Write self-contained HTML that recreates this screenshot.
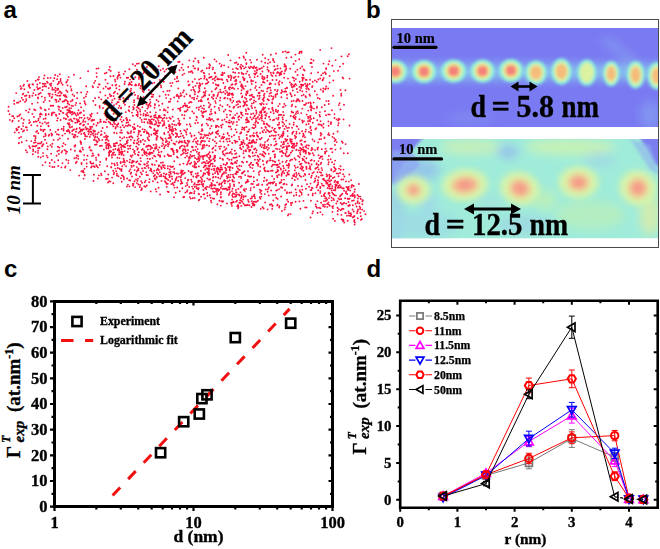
<!DOCTYPE html>
<html><head><meta charset="utf-8"><style>html,body{margin:0;padding:0;background:#fff;}body{width:660px;height:549px;overflow:hidden;}svg{display:block}</style></head>
<body><svg width="660" height="549" viewBox="0 0 660 549">
<rect width="660" height="549" fill="#fff"/>
<text x="3.4" y="17.9" font-size="24" font-family="Liberation Sans" font-weight="bold">a</text>
<text x="366" y="18.2" font-size="24" font-family="Liberation Sans" font-weight="bold">b</text>
<text x="4" y="277" font-size="24" font-family="Liberation Sans" font-weight="bold">c</text>
<text x="366.5" y="277" font-size="24" font-family="Liberation Sans" font-weight="bold">d</text>
<path d="M331.5 48.1h0M320.2 49.9h0M285.3 51.4h0M299.9 51.7h0M301.6 51.5h0M246.3 52.7h0M282.9 52.0h0M287.1 52.5h0M288.8 52.2h0M301.5 52.7h0M276.0 53.5h0M299.2 53.2h0M262.7 54.8h0M270.9 54.8h0M295.4 54.6h0M228.2 55.0h0M243.5 56.5h0M341.5 56.4h0M203.8 57.8h0M239.4 57.7h0M244.0 57.8h0M286.4 57.7h0M291.3 57.3h0M195.2 58.5h0M265.2 58.3h0M273.0 58.9h0M214.5 59.4h0M245.5 59.8h0M250.2 59.9h0M257.0 59.8h0M268.4 59.6h0M299.2 59.3h0M311.3 59.4h0M189.4 60.4h0M198.3 60.9h0M230.5 60.4h0M273.3 60.5h0M295.6 60.9h0M313.5 60.5h0M335.6 60.1h0M178.2 62.0h0M179.5 61.8h0M193.6 61.2h0M216.5 61.4h0M261.6 61.4h0M329.3 61.3h0M198.6 62.5h0M234.9 62.9h0M236.4 62.5h0M251.2 62.5h0M265.2 62.8h0M270.1 62.3h0M274.4 62.1h0M310.4 63.0h0M311.6 63.0h0M136.9 63.8h0M138.7 63.4h0M219.7 63.6h0M246.5 63.3h0M267.9 63.4h0M293.6 64.0h0M323.5 63.6h0M343.1 63.8h0M132.8 64.3h0M182.5 64.4h0M209.3 64.2h0M237.8 64.4h0M238.2 64.2h0M241.2 64.8h0M246.3 64.0h0M284.5 64.3h0M328.5 64.3h0M135.2 65.8h0M210.1 65.3h0M221.7 65.1h0M224.1 65.4h0M277.4 65.8h0M285.6 65.8h0M332.4 65.7h0M109.8 66.9h0M158.7 66.2h0M171.3 66.6h0M193.3 66.0h0M221.1 66.4h0M240.2 66.7h0M242.8 66.3h0M251.0 66.8h0M254.2 66.5h0M263.6 66.4h0M274.2 66.2h0M284.5 66.4h0M286.0 67.0h0M302.2 66.5h0M312.0 66.9h0M339.9 66.6h0M147.0 67.0h0M181.5 67.8h0M188.2 67.0h0M209.5 67.3h0M213.1 67.6h0M228.4 67.1h0M240.9 67.5h0M245.7 67.2h0M248.9 67.3h0M252.7 67.5h0M256.6 67.5h0M261.9 67.9h0M267.5 67.1h0M96.5 68.6h0M98.4 68.4h0M144.5 68.1h0M163.0 68.8h0M194.4 68.4h0M195.1 68.4h0M198.3 68.4h0M206.8 68.2h0M209.2 68.3h0M236.3 68.3h0M241.2 68.7h0M244.1 68.4h0M249.7 68.3h0M253.3 68.3h0M255.5 68.0h0M260.1 68.8h0M277.8 68.6h0M280.5 68.4h0M290.2 68.7h0M300.5 68.3h0M326.1 68.2h0M109.1 69.7h0M129.4 69.2h0M136.9 69.6h0M153.6 69.6h0M157.8 69.6h0M166.3 69.4h0M183.3 69.9h0M198.1 69.7h0M212.7 69.3h0M232.8 69.1h0M237.7 69.0h0M257.0 69.8h0M259.2 69.0h0M267.5 69.4h0M274.6 69.9h0M275.7 69.2h0M285.4 69.9h0M286.3 69.0h0M297.4 69.8h0M303.6 69.5h0M326.1 69.1h0M110.7 71.0h0M157.0 70.8h0M160.6 70.2h0M179.6 70.2h0M202.4 70.4h0M257.0 70.6h0M268.7 70.7h0M285.0 70.9h0M304.6 70.5h0M338.1 70.8h0M88.1 71.3h0M125.1 71.5h0M164.5 71.5h0M188.9 72.0h0M190.7 71.7h0M191.8 71.1h0M201.2 71.5h0M247.3 71.5h0M254.9 71.1h0M262.4 71.5h0M268.6 71.6h0M281.9 71.5h0M295.5 71.7h0M333.8 71.1h0M106.5 72.8h0M118.8 72.4h0M136.3 72.1h0M144.1 72.0h0M175.5 72.3h0M192.6 72.8h0M203.6 72.7h0M214.7 72.7h0M222.4 72.7h0M224.4 72.9h0M233.2 72.3h0M235.2 72.7h0M238.9 73.0h0M241.7 72.6h0M256.6 72.6h0M270.8 72.8h0M273.3 72.5h0M277.5 72.1h0M278.6 72.6h0M280.6 72.5h0M318.0 72.4h0M324.9 72.3h0M96.5 73.1h0M104.8 73.4h0M123.7 73.9h0M143.4 73.4h0M147.4 73.5h0M184.2 73.6h0M204.2 73.2h0M215.0 73.3h0M222.6 73.7h0M241.9 73.8h0M246.1 73.6h0M254.2 73.6h0M256.1 73.3h0M260.6 74.0h0M273.6 73.2h0M276.9 73.1h0M279.8 73.7h0M284.3 73.5h0M311.2 73.3h0M323.0 73.3h0M325.4 73.1h0M55.2 75.0h0M59.9 74.3h0M74.0 74.8h0M118.9 74.8h0M182.5 74.9h0M209.2 74.1h0M221.4 75.0h0M243.5 74.0h0M249.1 74.9h0M255.1 74.6h0M271.4 74.9h0M279.9 74.4h0M281.3 74.3h0M302.7 74.8h0M325.9 74.0h0M44.5 75.4h0M119.5 75.3h0M204.5 75.7h0M222.7 75.1h0M228.2 76.0h0M230.3 75.4h0M267.4 75.7h0M275.9 75.8h0M279.5 75.3h0M297.6 75.0h0M303.1 75.2h0M321.3 75.3h0M329.6 75.9h0M57.7 76.1h0M96.7 76.8h0M110.5 76.2h0M113.4 76.0h0M117.9 76.3h0M165.2 76.0h0M177.1 76.7h0M204.7 76.9h0M211.5 76.8h0M215.9 76.4h0M231.5 76.4h0M235.5 76.6h0M238.4 76.8h0M257.7 76.3h0M262.3 76.3h0M272.5 76.1h0M39.0 77.1h0M50.5 77.9h0M68.7 77.1h0M117.4 77.6h0M120.5 77.6h0M126.7 77.8h0M128.1 77.8h0M135.3 77.2h0M139.0 77.2h0M209.2 77.8h0M210.2 77.3h0M215.6 77.1h0M228.8 77.3h0M233.8 77.8h0M234.3 77.8h0M243.0 77.2h0M249.9 77.3h0M254.6 77.1h0M264.0 77.1h0M264.6 78.0h0M267.2 77.4h0M284.1 77.8h0M292.7 77.4h0M302.2 77.7h0M303.8 77.9h0M342.6 77.5h0M43.9 78.4h0M47.8 78.0h0M54.3 78.3h0M60.6 79.0h0M80.4 78.1h0M117.5 78.7h0M133.0 79.0h0M138.9 78.9h0M141.9 78.6h0M177.1 78.3h0M200.9 78.6h0M204.2 78.6h0M214.4 78.4h0M217.9 78.5h0M231.3 78.0h0M243.6 78.9h0M244.7 78.7h0M262.1 78.1h0M264.5 78.8h0M288.0 78.6h0M293.9 78.3h0M302.9 78.6h0M320.2 78.5h0M323.7 78.1h0M343.3 78.4h0M37.8 79.5h0M38.7 79.5h0M57.2 79.2h0M67.8 79.9h0M105.5 79.7h0M115.0 79.7h0M130.2 79.6h0M133.6 79.1h0M159.9 80.0h0M174.8 79.1h0M194.9 79.1h0M199.1 79.4h0M206.5 79.3h0M207.2 80.0h0M212.6 79.2h0M217.3 79.3h0M218.1 79.4h0M219.9 79.3h0M221.8 79.2h0M222.4 79.9h0M226.9 79.8h0M236.1 79.8h0M263.2 79.5h0M272.5 80.0h0M276.5 80.0h0M295.9 79.1h0M302.7 79.8h0M305.7 79.7h0M306.6 79.9h0M310.1 79.8h0M318.3 79.5h0M322.9 79.4h0M27.4 81.0h0M35.8 80.8h0M53.4 80.9h0M60.6 81.0h0M95.2 80.9h0M161.9 80.1h0M215.0 80.5h0M230.8 80.0h0M235.8 80.8h0M236.3 80.8h0M244.1 80.3h0M251.2 80.3h0M253.0 81.0h0M267.4 80.7h0M294.2 80.7h0M302.5 80.7h0M314.9 80.4h0M322.6 80.4h0M333.4 80.5h0M47.0 81.6h0M58.9 82.0h0M66.8 81.7h0M115.4 81.4h0M124.9 81.7h0M163.8 81.8h0M176.6 81.6h0M178.3 81.1h0M188.2 81.5h0M192.6 81.7h0M227.6 81.4h0M235.1 81.0h0M240.1 81.9h0M247.4 81.7h0M251.2 81.6h0M263.4 81.9h0M279.6 81.2h0M299.7 81.8h0M312.7 81.7h0M316.7 81.8h0M39.9 82.9h0M47.8 82.8h0M61.4 83.0h0M66.2 82.5h0M94.1 82.9h0M131.5 82.0h0M154.3 82.8h0M172.5 82.9h0M208.4 82.0h0M213.1 82.9h0M255.7 82.4h0M262.9 82.3h0M264.5 82.6h0M278.6 82.9h0M282.1 82.8h0M289.9 82.4h0M329.6 82.6h0M42.8 83.8h0M44.1 83.9h0M45.6 83.6h0M51.3 83.5h0M58.8 83.1h0M107.6 83.4h0M124.6 84.0h0M129.4 83.0h0M139.1 83.9h0M152.2 83.4h0M170.3 83.1h0M197.0 83.2h0M199.5 83.1h0M202.5 83.6h0M205.9 83.8h0M207.3 83.2h0M223.4 83.0h0M236.3 83.5h0M251.8 83.9h0M270.0 83.2h0M270.9 83.8h0M291.3 83.9h0M295.5 83.9h0M305.2 83.8h0M24.0 84.6h0M29.4 84.5h0M32.5 84.2h0M33.1 84.5h0M37.3 84.5h0M49.9 84.3h0M50.4 84.8h0M57.7 84.3h0M62.6 84.7h0M98.9 84.3h0M99.6 84.5h0M116.3 84.6h0M128.7 84.7h0M130.3 84.3h0M135.6 84.4h0M146.8 84.9h0M189.6 84.6h0M200.5 84.5h0M215.7 84.5h0M218.5 85.0h0M231.5 84.9h0M232.4 84.3h0M235.2 84.5h0M241.5 84.2h0M261.5 84.9h0M269.5 84.2h0M275.3 84.1h0M279.1 84.7h0M292.0 84.5h0M301.0 84.8h0M301.5 84.7h0M302.9 85.0h0M303.3 85.0h0M307.5 84.3h0M309.7 84.0h0M23.4 85.7h0M28.7 85.2h0M44.6 86.0h0M51.1 85.7h0M67.5 85.4h0M112.3 85.2h0M115.6 85.4h0M131.8 85.0h0M135.2 85.4h0M136.2 85.3h0M138.7 85.2h0M140.8 85.9h0M146.2 85.1h0M160.8 85.4h0M171.3 85.9h0M188.7 85.2h0M195.5 85.9h0M199.2 85.4h0M200.1 85.8h0M217.2 85.2h0M218.3 85.7h0M241.0 86.0h0M242.3 85.4h0M291.2 85.0h0M294.1 85.1h0M296.3 85.1h0M307.0 85.3h0M307.6 85.1h0M20.5 86.2h0M29.1 86.5h0M42.8 86.8h0M46.1 86.5h0M70.6 86.5h0M86.2 86.3h0M92.6 86.1h0M105.8 86.7h0M119.4 86.1h0M140.9 86.0h0M146.4 86.5h0M156.9 86.7h0M157.5 86.4h0M225.3 86.7h0M241.9 86.2h0M242.7 86.1h0M245.5 86.1h0M255.9 86.1h0M291.8 86.8h0M293.9 86.2h0M294.4 86.3h0M299.5 86.9h0M301.6 86.2h0M306.0 86.3h0M312.5 86.1h0M326.3 86.4h0M29.9 87.8h0M37.1 87.1h0M52.3 87.9h0M55.4 87.9h0M93.0 87.3h0M98.0 87.2h0M110.1 87.7h0M155.9 87.1h0M161.2 87.3h0M193.1 87.2h0M199.0 87.2h0M216.5 88.0h0M230.1 87.2h0M232.9 87.6h0M242.1 87.5h0M243.1 88.0h0M255.1 87.9h0M259.6 87.4h0M268.2 87.8h0M270.1 87.8h0M286.9 87.8h0M292.5 87.3h0M307.1 87.0h0M312.1 87.0h0M20.8 88.9h0M21.6 88.3h0M38.5 88.8h0M40.0 88.0h0M48.7 88.1h0M57.4 88.7h0M58.3 89.0h0M103.5 88.5h0M107.9 88.5h0M108.6 88.9h0M109.7 88.6h0M110.3 88.1h0M116.4 88.2h0M131.2 88.8h0M140.3 88.1h0M178.3 88.4h0M199.4 88.8h0M204.8 88.3h0M224.7 88.3h0M228.9 88.0h0M231.8 88.3h0M234.3 88.9h0M238.0 88.6h0M243.9 88.9h0M267.3 88.8h0M285.3 88.6h0M287.2 88.0h0M301.1 88.0h0M306.4 88.7h0M308.4 88.7h0M323.4 88.5h0M325.8 88.4h0M328.2 88.5h0M24.4 89.2h0M37.7 89.2h0M52.3 89.6h0M53.9 89.7h0M57.8 89.9h0M71.4 89.1h0M119.4 89.6h0M142.4 89.4h0M148.9 89.9h0M193.6 89.5h0M215.4 89.3h0M220.3 89.6h0M229.5 89.5h0M250.5 89.7h0M275.0 89.9h0M277.6 89.9h0M296.8 89.0h0M308.9 89.5h0M320.7 89.5h0M325.3 89.3h0M340.5 89.9h0M34.4 90.0h0M42.5 90.0h0M55.9 90.5h0M66.3 90.4h0M71.5 90.6h0M130.8 90.6h0M167.4 90.9h0M169.5 90.7h0M183.8 90.5h0M191.3 90.1h0M194.3 90.4h0M199.5 91.0h0M225.8 90.6h0M241.6 90.2h0M256.6 90.1h0M261.5 90.7h0M270.7 90.3h0M281.8 90.2h0M292.8 90.5h0M300.1 90.3h0M323.0 90.9h0M59.8 91.5h0M60.3 91.8h0M67.5 91.8h0M87.4 91.9h0M115.0 91.8h0M130.2 91.3h0M142.7 91.1h0M163.3 91.6h0M195.1 91.9h0M205.7 91.3h0M211.8 91.5h0M220.3 91.8h0M223.6 91.9h0M246.5 91.7h0M247.8 91.3h0M263.2 91.1h0M267.0 91.6h0M277.1 91.6h0M282.3 91.6h0M284.3 91.7h0M285.5 91.3h0M286.1 91.7h0M302.3 91.3h0M306.4 91.6h0M314.8 91.3h0M323.1 91.8h0M28.2 92.2h0M40.7 92.9h0M55.3 92.1h0M58.4 92.9h0M61.6 93.0h0M77.1 92.8h0M81.1 92.4h0M100.3 92.2h0M113.9 93.0h0M123.7 92.1h0M134.2 92.4h0M143.6 92.0h0M182.9 92.4h0M198.4 92.3h0M203.6 92.2h0M218.4 92.7h0M221.6 92.6h0M227.1 92.3h0M259.6 92.7h0M271.0 92.7h0M297.6 92.1h0M16.2 93.1h0M23.2 93.6h0M33.3 93.1h0M39.2 93.6h0M48.6 93.8h0M49.9 93.7h0M61.4 93.2h0M117.6 93.8h0M151.5 93.9h0M180.6 93.5h0M205.1 93.0h0M225.3 93.7h0M228.4 93.7h0M229.6 93.2h0M232.4 93.5h0M241.1 93.4h0M247.5 93.3h0M258.7 93.0h0M259.2 93.3h0M264.5 93.8h0M269.7 93.6h0M281.1 93.0h0M290.3 93.1h0M22.8 94.4h0M38.6 94.3h0M52.5 94.4h0M55.6 94.6h0M72.6 94.5h0M86.4 94.1h0M109.7 94.2h0M131.9 94.7h0M135.1 94.9h0M147.6 95.0h0M153.2 94.7h0M165.6 94.8h0M168.5 94.9h0M177.2 94.7h0M186.5 94.3h0M194.8 94.2h0M204.7 94.6h0M213.4 94.8h0M217.8 94.8h0M231.4 94.0h0M232.2 94.8h0M233.1 94.8h0M245.9 94.1h0M252.0 94.8h0M275.7 94.5h0M277.2 94.0h0M287.0 94.8h0M290.8 94.4h0M303.6 94.8h0M309.4 94.5h0M317.0 94.6h0M25.0 96.0h0M26.5 95.5h0M29.5 95.8h0M32.4 95.8h0M35.7 95.0h0M49.6 95.9h0M57.2 95.6h0M59.2 95.7h0M60.3 95.5h0M63.7 95.3h0M64.6 95.8h0M65.6 95.3h0M105.4 95.4h0M111.3 95.7h0M176.5 96.0h0M177.2 95.7h0M181.4 95.5h0M189.9 95.5h0M204.2 95.4h0M205.3 95.6h0M209.3 95.0h0M213.6 95.9h0M214.1 95.1h0M227.7 95.1h0M229.2 95.1h0M246.2 95.1h0M249.7 95.4h0M251.0 95.5h0M257.7 95.7h0M259.8 95.7h0M263.9 95.2h0M275.5 95.3h0M294.8 95.2h0M301.7 95.6h0M310.0 95.8h0M333.1 95.8h0M41.8 96.6h0M52.1 96.9h0M65.3 96.6h0M66.6 97.0h0M74.3 96.0h0M85.9 96.4h0M110.4 96.3h0M113.6 96.1h0M128.9 96.2h0M138.0 96.0h0M151.6 96.7h0M152.7 96.7h0M159.6 96.3h0M178.6 96.3h0M180.4 96.1h0M184.4 96.5h0M190.2 96.4h0M197.6 96.3h0M203.5 96.4h0M217.5 96.0h0M242.3 96.3h0M252.7 96.7h0M269.1 96.1h0M271.4 96.0h0M273.3 96.7h0M275.6 96.9h0M291.7 96.2h0M305.5 96.3h0M21.8 97.9h0M29.6 97.3h0M38.0 97.5h0M44.9 97.7h0M51.6 97.7h0M83.9 97.9h0M98.9 97.5h0M107.8 98.0h0M123.3 98.0h0M143.4 97.1h0M174.1 97.5h0M178.9 98.0h0M192.1 98.0h0M194.1 97.8h0M202.0 97.4h0M211.9 97.2h0M220.3 97.7h0M225.0 97.8h0M232.6 97.4h0M242.0 97.3h0M244.9 97.6h0M254.1 97.3h0M259.5 97.9h0M264.3 97.1h0M281.4 97.3h0M305.9 97.3h0M317.8 98.0h0M38.0 98.4h0M60.0 99.0h0M77.2 98.3h0M95.1 98.2h0M114.6 98.8h0M137.5 98.2h0M138.5 98.5h0M166.2 98.1h0M170.6 99.0h0M196.9 98.6h0M208.1 98.7h0M213.2 98.7h0M216.3 98.2h0M224.3 98.5h0M227.6 98.5h0M230.3 99.0h0M251.3 98.9h0M263.7 98.0h0M273.3 98.5h0M287.1 98.3h0M319.7 98.7h0M23.0 99.9h0M26.1 99.1h0M55.3 99.7h0M56.3 100.0h0M60.2 99.5h0M65.4 99.7h0M72.5 99.7h0M101.3 99.4h0M119.1 99.4h0M120.4 99.4h0M128.1 99.3h0M141.3 99.6h0M150.0 99.6h0M194.1 99.4h0M201.1 99.9h0M207.9 99.6h0M230.5 99.8h0M246.3 99.0h0M250.1 99.8h0M258.7 99.1h0M262.6 99.4h0M267.7 99.3h0M268.0 99.6h0M272.5 99.5h0M297.1 99.1h0M298.5 99.4h0M14.1 100.8h0M26.3 100.6h0M45.1 100.1h0M49.6 100.9h0M66.7 100.4h0M72.3 100.6h0M112.3 100.1h0M134.1 100.3h0M156.6 100.0h0M198.8 100.9h0M220.0 100.4h0M230.5 100.6h0M233.4 101.0h0M254.1 100.5h0M263.6 100.2h0M268.8 100.3h0M293.7 100.7h0M296.6 100.7h0M297.9 100.4h0M302.5 101.0h0M328.6 101.0h0M20.3 101.2h0M25.0 101.9h0M56.4 101.9h0M58.6 101.2h0M62.6 101.6h0M63.5 101.4h0M64.4 101.3h0M67.9 101.7h0M70.7 101.4h0M84.4 101.2h0M93.3 101.0h0M125.6 101.4h0M158.4 101.4h0M168.8 101.9h0M170.2 101.5h0M177.7 101.4h0M190.2 101.9h0M200.6 101.1h0M201.8 101.2h0M215.2 101.1h0M237.9 101.4h0M239.4 101.1h0M243.6 101.1h0M246.9 101.3h0M255.8 101.6h0M263.7 101.0h0M291.6 101.2h0M296.2 101.4h0M299.6 101.3h0M326.3 101.1h0M17.0 102.7h0M18.5 102.5h0M37.7 102.6h0M43.7 102.0h0M76.2 102.9h0M111.8 102.5h0M117.5 102.2h0M118.6 102.1h0M123.7 102.9h0M134.0 102.3h0M146.8 102.6h0M150.4 102.3h0M189.0 102.9h0M191.5 102.3h0M208.8 102.7h0M215.7 102.9h0M232.1 102.6h0M236.9 102.0h0M240.1 102.2h0M244.1 102.6h0M245.4 102.3h0M253.7 102.7h0M272.1 102.4h0M308.4 102.9h0M310.4 102.5h0M313.6 102.6h0M14.3 103.9h0M32.1 103.8h0M67.7 103.4h0M80.1 103.4h0M84.9 103.0h0M104.9 104.0h0M116.4 103.9h0M149.7 103.8h0M162.4 103.8h0M184.8 103.4h0M245.0 103.4h0M252.0 103.6h0M260.1 103.7h0M262.0 103.1h0M272.2 103.3h0M279.7 103.9h0M284.3 103.9h0M306.3 103.1h0M310.8 103.6h0M328.8 104.0h0M339.6 103.2h0M69.2 104.5h0M85.6 104.5h0M95.5 105.0h0M125.0 104.8h0M134.4 104.9h0M139.0 104.6h0M142.7 104.3h0M146.6 104.2h0M148.8 105.0h0M154.9 104.2h0M210.4 104.5h0M238.0 104.3h0M244.7 104.8h0M246.7 104.9h0M261.3 104.8h0M263.7 104.1h0M266.7 104.1h0M292.2 104.7h0M304.1 104.7h0M305.5 104.7h0M50.6 105.7h0M52.0 105.6h0M53.2 105.7h0M71.5 105.6h0M72.9 105.9h0M75.5 105.1h0M99.6 105.9h0M114.0 105.2h0M119.4 105.7h0M148.1 105.7h0M150.6 106.0h0M155.0 105.1h0M159.0 105.5h0M183.8 105.6h0M185.4 105.1h0M187.1 105.7h0M203.8 105.6h0M220.2 105.1h0M227.6 105.0h0M236.3 105.1h0M243.8 105.6h0M246.9 105.4h0M285.5 105.6h0M310.8 105.4h0M324.7 105.0h0M338.8 105.1h0M8.6 106.7h0M58.3 106.5h0M66.9 106.5h0M129.2 106.7h0M137.4 106.7h0M182.9 106.7h0M186.0 106.5h0M186.1 106.2h0M200.7 106.2h0M209.5 106.1h0M214.6 106.8h0M222.4 106.4h0M229.6 106.8h0M233.8 106.9h0M234.2 106.8h0M240.2 106.5h0M243.4 106.2h0M251.4 106.0h0M278.2 106.1h0M283.5 106.9h0M291.6 106.3h0M295.7 106.7h0M310.3 106.9h0M311.5 106.4h0M317.0 106.8h0M40.4 107.4h0M59.4 107.1h0M62.7 107.9h0M65.1 107.3h0M66.0 107.3h0M81.1 107.3h0M99.7 107.7h0M118.6 107.9h0M121.2 107.8h0M133.1 107.1h0M137.1 107.3h0M142.3 107.2h0M148.4 107.1h0M154.6 107.7h0M168.0 107.4h0M180.8 107.6h0M188.0 107.6h0M189.6 107.1h0M196.6 107.7h0M199.0 107.4h0M209.0 107.4h0M218.8 108.0h0M233.5 107.8h0M238.2 107.2h0M255.0 107.5h0M263.4 107.5h0M265.3 107.6h0M272.5 107.7h0M282.9 107.1h0M310.6 107.2h0M316.9 107.9h0M321.8 107.3h0M41.2 108.5h0M69.2 108.1h0M71.1 108.1h0M103.0 108.0h0M120.9 108.4h0M133.8 108.0h0M138.6 108.3h0M147.4 108.6h0M178.1 108.6h0M179.7 108.7h0M202.2 108.1h0M248.2 108.4h0M252.1 108.0h0M263.4 108.0h0M264.1 108.6h0M268.9 108.9h0M272.2 108.6h0M302.3 108.6h0M312.0 108.0h0M314.0 108.6h0M29.5 109.2h0M34.2 109.5h0M44.8 109.8h0M48.9 109.1h0M58.9 109.5h0M67.3 109.9h0M133.3 109.4h0M140.1 109.7h0M160.0 109.9h0M164.2 109.1h0M172.9 109.5h0M180.3 109.9h0M187.5 110.0h0M198.8 109.8h0M204.0 109.0h0M211.3 109.5h0M225.4 109.8h0M245.8 109.5h0M248.8 109.3h0M262.4 109.4h0M263.5 109.9h0M272.5 109.4h0M276.0 109.8h0M311.0 109.7h0M340.5 109.4h0M26.1 110.6h0M35.4 110.2h0M45.6 110.3h0M60.5 111.0h0M68.2 110.2h0M69.5 110.2h0M78.5 110.3h0M83.7 110.7h0M111.8 110.4h0M112.8 110.4h0M115.3 110.7h0M128.7 110.3h0M136.6 110.1h0M145.3 110.9h0M163.8 110.3h0M165.7 110.5h0M180.2 110.8h0M219.4 110.1h0M229.5 110.6h0M256.1 110.4h0M273.2 110.8h0M278.1 110.8h0M308.2 110.6h0M311.2 110.4h0M331.9 110.3h0M8.4 111.0h0M60.9 111.3h0M69.1 111.7h0M70.3 111.3h0M72.6 112.0h0M129.3 111.3h0M137.5 112.0h0M140.2 111.6h0M184.7 111.5h0M186.2 111.4h0M192.3 111.5h0M201.4 111.3h0M203.9 111.6h0M204.6 111.8h0M206.0 111.3h0M210.9 111.6h0M223.8 111.5h0M231.1 111.4h0M246.1 111.1h0M260.3 111.6h0M261.3 111.2h0M265.2 111.7h0M275.9 111.2h0M283.2 111.9h0M291.6 111.4h0M297.7 111.1h0M325.0 111.3h0M28.5 112.3h0M53.2 112.5h0M54.4 112.6h0M62.8 112.6h0M67.6 112.7h0M70.3 113.0h0M71.4 112.3h0M74.5 112.8h0M80.2 112.6h0M81.1 112.5h0M125.8 112.1h0M132.0 112.6h0M137.7 112.3h0M147.2 112.9h0M150.2 112.3h0M155.9 112.4h0M167.6 112.3h0M203.3 112.2h0M215.1 112.3h0M240.8 112.5h0M241.7 112.8h0M256.6 112.1h0M260.1 112.7h0M261.4 112.8h0M264.3 112.2h0M270.7 112.2h0M277.5 112.2h0M292.1 112.4h0M293.1 112.5h0M296.3 112.1h0M316.1 112.8h0M319.9 112.1h0M32.4 113.9h0M40.5 113.4h0M51.8 113.2h0M59.3 114.0h0M63.4 113.1h0M73.2 113.6h0M77.6 113.1h0M79.8 113.4h0M91.8 113.7h0M97.4 113.1h0M104.4 113.6h0M107.1 113.5h0M113.6 113.7h0M143.7 113.6h0M193.9 113.3h0M202.4 113.0h0M211.6 113.7h0M215.4 113.2h0M237.0 113.4h0M245.9 113.8h0M247.7 113.9h0M251.1 114.0h0M253.2 113.4h0M256.4 113.6h0M266.7 113.4h0M273.7 113.2h0M295.9 114.0h0M298.1 113.1h0M301.2 113.1h0M9.6 114.2h0M20.3 114.4h0M39.9 114.5h0M41.6 114.4h0M45.8 114.0h0M48.7 114.3h0M51.9 114.2h0M55.9 114.8h0M66.3 114.2h0M71.9 114.6h0M75.5 114.1h0M78.1 114.8h0M90.4 114.9h0M120.1 114.9h0M136.6 115.0h0M137.7 114.2h0M140.7 114.5h0M145.7 114.8h0M164.2 115.0h0M182.1 114.9h0M209.9 114.5h0M226.8 114.6h0M230.1 114.9h0M241.4 114.1h0M259.2 114.9h0M261.9 114.9h0M265.4 115.0h0M278.8 115.0h0M280.1 114.8h0M281.5 114.9h0M306.7 114.6h0M319.6 114.9h0M328.3 114.4h0M329.8 114.6h0M334.5 114.1h0M19.1 115.8h0M45.8 115.3h0M51.7 115.2h0M56.4 115.8h0M67.2 115.1h0M76.4 115.6h0M84.0 115.3h0M90.3 115.3h0M105.6 115.6h0M132.9 115.8h0M143.4 115.4h0M145.8 115.7h0M146.6 115.1h0M148.3 115.5h0M154.2 115.6h0M155.5 115.0h0M159.7 115.7h0M164.9 115.2h0M184.5 115.2h0M202.2 115.4h0M235.2 115.1h0M242.7 115.4h0M254.9 115.4h0M261.5 115.7h0M266.1 115.8h0M283.8 115.2h0M294.3 115.4h0M310.4 116.0h0M326.0 115.2h0M12.1 116.1h0M13.2 116.3h0M17.4 116.5h0M33.9 116.9h0M40.1 116.7h0M67.9 116.8h0M91.2 116.5h0M106.8 116.9h0M118.1 116.3h0M119.1 116.2h0M137.8 116.2h0M150.5 116.8h0M151.3 116.4h0M158.8 116.0h0M159.6 116.7h0M172.6 116.7h0M196.6 116.7h0M203.3 116.2h0M239.2 116.3h0M254.5 116.3h0M262.0 116.6h0M269.3 116.7h0M290.7 116.0h0M293.1 116.6h0M308.1 116.7h0M310.1 116.1h0M320.0 116.5h0M79.6 117.8h0M81.5 117.6h0M87.6 117.8h0M121.6 117.0h0M126.5 117.9h0M140.2 117.9h0M154.4 117.2h0M155.5 117.2h0M156.6 117.6h0M158.8 117.2h0M160.1 117.4h0M161.1 117.6h0M164.3 117.8h0M169.5 117.7h0M189.9 117.9h0M197.0 117.6h0M203.1 117.0h0M209.3 117.9h0M226.9 117.2h0M233.3 117.1h0M238.3 117.4h0M241.2 117.6h0M250.4 117.2h0M253.4 118.0h0M258.0 117.0h0M260.8 117.9h0M269.0 117.0h0M278.6 117.8h0M282.6 117.4h0M294.0 117.7h0M295.7 117.0h0M310.1 117.2h0M334.5 118.0h0M14.3 118.3h0M21.6 118.3h0M38.6 118.7h0M43.7 118.9h0M45.7 118.5h0M57.8 118.2h0M63.9 118.3h0M65.9 118.7h0M73.9 118.6h0M74.6 118.6h0M84.6 118.3h0M89.9 118.5h0M110.7 118.1h0M126.3 118.5h0M157.6 118.7h0M162.7 118.8h0M166.7 118.3h0M170.7 118.7h0M178.3 118.7h0M184.1 118.5h0M232.3 118.2h0M234.2 118.2h0M246.9 118.0h0M255.6 118.7h0M256.8 118.5h0M261.8 118.6h0M265.3 118.2h0M276.4 118.4h0M295.3 119.0h0M308.4 118.3h0M311.1 119.0h0M313.7 118.3h0M338.7 118.6h0M9.9 119.9h0M23.8 119.7h0M60.6 120.0h0M65.9 119.3h0M70.9 119.2h0M76.7 119.1h0M78.5 120.0h0M88.6 119.6h0M92.4 119.6h0M94.2 119.9h0M100.4 119.8h0M106.7 119.5h0M113.2 119.7h0M120.5 119.5h0M127.2 119.8h0M141.6 119.9h0M144.4 119.1h0M146.2 119.2h0M148.9 119.7h0M152.0 119.1h0M153.7 119.8h0M206.9 119.4h0M208.2 119.6h0M210.2 119.2h0M212.1 119.3h0M217.4 119.5h0M218.3 119.2h0M224.6 119.5h0M238.9 119.8h0M245.9 119.8h0M247.1 119.8h0M251.8 119.4h0M259.3 119.2h0M270.2 119.5h0M274.2 119.7h0M278.2 119.5h0M282.8 119.4h0M299.5 119.3h0M336.6 119.4h0M339.5 119.3h0M343.5 119.4h0M12.6 120.6h0M18.7 120.9h0M29.2 120.1h0M38.3 120.4h0M57.1 120.6h0M69.1 120.0h0M71.4 120.8h0M77.4 120.4h0M83.4 120.1h0M91.5 120.8h0M92.9 120.3h0M115.9 120.4h0M116.2 120.3h0M123.6 120.2h0M127.1 120.4h0M129.7 120.2h0M150.5 120.1h0M158.4 120.7h0M162.1 120.8h0M173.8 121.0h0M179.3 120.8h0M196.3 120.2h0M210.3 120.2h0M213.6 120.9h0M222.2 120.2h0M229.4 120.4h0M248.0 120.5h0M256.0 120.9h0M262.0 120.6h0M273.0 120.2h0M286.2 120.6h0M302.2 120.5h0M309.6 120.3h0M317.2 120.3h0M338.2 120.5h0M12.3 121.6h0M33.7 121.9h0M35.5 121.4h0M36.6 121.6h0M72.5 121.4h0M77.9 121.6h0M79.2 121.4h0M83.0 121.8h0M85.3 121.8h0M100.0 121.9h0M100.9 121.8h0M104.0 121.8h0M108.7 121.7h0M114.3 121.1h0M121.9 121.8h0M149.9 121.5h0M151.6 121.9h0M155.7 121.3h0M164.0 121.1h0M168.3 121.1h0M226.3 121.7h0M231.5 121.7h0M236.9 121.9h0M249.0 121.8h0M256.5 121.4h0M263.8 121.6h0M282.3 121.9h0M304.0 121.1h0M308.0 121.2h0M310.1 121.2h0M320.6 121.1h0M328.4 121.4h0M30.0 122.2h0M39.9 122.4h0M45.0 122.1h0M48.3 122.7h0M75.3 122.8h0M77.2 122.5h0M97.7 123.0h0M103.8 122.1h0M105.8 122.3h0M110.1 122.8h0M113.9 122.7h0M126.5 122.7h0M128.2 122.4h0M141.9 122.1h0M144.3 122.2h0M147.6 122.3h0M150.1 122.3h0M156.5 122.9h0M158.9 122.8h0M160.3 122.7h0M164.3 123.0h0M197.9 122.8h0M228.3 122.4h0M229.8 122.8h0M233.8 122.1h0M246.3 122.4h0M247.7 122.1h0M255.3 122.8h0M258.1 123.0h0M279.2 122.7h0M283.0 122.4h0M293.9 122.6h0M302.6 122.5h0M312.8 122.7h0M331.1 122.2h0M23.1 123.2h0M29.1 123.1h0M42.5 123.5h0M46.6 123.5h0M67.7 123.4h0M69.0 123.1h0M80.9 123.5h0M88.1 123.9h0M97.9 123.2h0M110.7 124.0h0M118.3 123.4h0M147.9 123.1h0M150.1 123.7h0M151.8 123.3h0M152.1 124.0h0M178.1 123.6h0M179.2 123.0h0M180.4 123.9h0M195.3 123.3h0M206.7 123.6h0M232.7 123.7h0M258.0 123.0h0M263.7 123.7h0M264.5 123.8h0M266.8 123.7h0M289.6 123.9h0M308.6 123.9h0M323.5 123.9h0M330.6 123.5h0M338.7 123.1h0M68.8 124.4h0M69.7 124.7h0M79.9 124.3h0M84.0 124.8h0M93.7 124.3h0M112.6 124.6h0M115.1 124.1h0M116.9 124.9h0M118.2 124.1h0M128.9 124.7h0M134.3 124.3h0M154.5 124.5h0M155.7 124.2h0M163.4 124.5h0M164.4 124.9h0M169.3 124.7h0M172.2 124.2h0M174.4 124.7h0M179.4 124.2h0M186.8 124.6h0M189.8 124.3h0M202.1 124.5h0M222.7 124.4h0M253.6 124.6h0M267.0 124.4h0M277.7 124.9h0M278.9 124.6h0M284.3 124.1h0M293.6 124.7h0M306.3 124.5h0M318.5 124.5h0M319.1 124.5h0M320.9 124.8h0M331.0 124.0h0M31.3 125.3h0M37.4 125.8h0M48.4 125.7h0M83.1 125.4h0M96.5 125.5h0M122.7 125.2h0M125.9 125.7h0M127.7 125.9h0M130.5 125.6h0M157.6 125.6h0M159.1 125.5h0M162.7 125.7h0M176.2 125.1h0M179.5 125.2h0M201.9 125.6h0M208.0 125.3h0M216.0 125.7h0M217.0 125.7h0M221.1 125.5h0M236.8 125.1h0M255.4 125.3h0M268.4 125.5h0M321.9 125.8h0M328.6 125.7h0M338.1 125.3h0M19.0 126.9h0M23.1 126.1h0M40.9 126.3h0M48.6 126.2h0M63.7 126.7h0M69.5 126.8h0M71.9 126.9h0M72.1 126.8h0M90.2 126.7h0M92.3 126.8h0M113.4 126.4h0M117.6 126.4h0M132.8 126.9h0M137.7 126.0h0M140.0 126.9h0M149.8 126.8h0M158.3 126.3h0M168.8 126.3h0M169.9 126.0h0M190.6 126.2h0M211.5 126.0h0M216.4 126.8h0M218.7 126.7h0M228.8 126.4h0M230.4 126.7h0M246.5 126.9h0M265.4 126.9h0M269.6 126.4h0M282.9 126.0h0M285.8 126.2h0M296.6 126.1h0M297.1 126.5h0M310.6 126.7h0M18.4 127.3h0M25.9 127.2h0M26.8 127.4h0M70.0 127.5h0M79.6 128.0h0M85.6 127.3h0M90.7 127.2h0M102.6 128.0h0M107.0 127.0h0M115.8 127.3h0M120.5 127.3h0M124.1 127.2h0M134.5 127.7h0M151.0 127.8h0M166.2 127.7h0M170.0 127.1h0M172.3 127.0h0M215.9 127.2h0M221.5 127.5h0M242.4 127.4h0M244.6 127.6h0M252.4 127.7h0M255.5 127.1h0M261.7 127.9h0M265.9 127.8h0M272.3 127.7h0M278.9 127.6h0M280.0 127.7h0M287.0 127.9h0M288.9 127.8h0M292.1 127.7h0M323.4 127.5h0M16.4 128.7h0M61.7 129.0h0M63.6 128.9h0M76.7 128.6h0M86.6 128.8h0M87.6 128.6h0M90.4 128.5h0M115.5 128.5h0M135.2 128.7h0M154.4 129.0h0M169.4 128.6h0M172.9 128.9h0M175.2 128.6h0M210.2 128.4h0M243.8 128.3h0M253.9 128.3h0M274.8 128.7h0M279.3 128.6h0M284.5 128.9h0M310.3 128.0h0M316.2 128.2h0M17.5 129.7h0M21.6 129.0h0M40.7 129.5h0M43.1 130.0h0M44.8 129.6h0M57.8 129.9h0M58.3 129.8h0M68.2 129.6h0M74.0 129.5h0M76.4 129.3h0M80.6 129.7h0M82.2 129.4h0M83.8 129.3h0M86.3 129.5h0M89.2 129.6h0M90.9 129.0h0M133.7 129.3h0M142.6 129.2h0M144.9 129.7h0M171.1 129.4h0M175.9 129.7h0M187.2 129.3h0M202.0 129.3h0M231.3 129.3h0M235.6 129.5h0M242.0 129.4h0M244.4 129.7h0M249.3 129.4h0M264.2 129.9h0M267.0 129.9h0M298.6 129.1h0M305.9 129.6h0M315.4 129.3h0M16.6 130.2h0M24.1 130.5h0M27.1 130.1h0M37.2 130.9h0M41.1 130.1h0M50.3 130.0h0M63.6 130.6h0M66.8 131.0h0M73.1 130.1h0M82.2 130.5h0M88.5 130.9h0M93.4 130.4h0M94.8 130.9h0M121.4 130.2h0M138.7 130.8h0M154.1 130.1h0M155.6 130.7h0M157.8 130.5h0M169.9 130.3h0M171.5 130.1h0M173.4 130.7h0M184.3 130.3h0M202.6 130.4h0M218.2 130.7h0M268.3 130.9h0M273.7 130.2h0M287.6 131.0h0M311.2 130.3h0M22.9 131.4h0M36.2 131.9h0M43.3 131.3h0M55.6 131.9h0M68.1 131.2h0M69.4 131.1h0M72.1 131.1h0M76.0 131.8h0M79.7 131.9h0M80.6 131.4h0M88.1 131.4h0M89.2 131.9h0M90.9 131.4h0M94.0 131.7h0M95.0 131.3h0M101.3 131.2h0M131.1 131.3h0M140.1 131.2h0M143.8 131.9h0M144.3 132.0h0M146.6 131.5h0M156.3 131.9h0M157.3 131.1h0M168.2 131.9h0M171.7 131.2h0M172.1 131.5h0M180.4 131.0h0M185.8 131.1h0M201.5 131.1h0M217.0 131.7h0M247.4 131.7h0M248.5 131.5h0M262.5 131.4h0M269.2 131.9h0M271.2 131.1h0M274.9 131.7h0M283.4 131.6h0M293.5 131.6h0M296.5 131.7h0M302.1 131.3h0M305.5 131.7h0M337.6 131.5h0M14.7 132.4h0M18.9 132.6h0M69.7 132.8h0M91.5 132.5h0M98.5 132.4h0M114.2 132.8h0M120.2 132.5h0M121.9 132.8h0M127.5 132.2h0M134.0 132.2h0M138.7 132.8h0M148.0 133.0h0M155.7 132.9h0M164.2 132.9h0M168.2 132.2h0M186.2 132.6h0M198.8 132.4h0M212.5 132.5h0M216.0 132.4h0M227.7 132.9h0M236.7 132.3h0M241.2 132.2h0M256.9 132.5h0M262.9 132.2h0M265.8 132.2h0M269.7 132.0h0M276.0 132.2h0M292.5 132.7h0M309.0 132.0h0M310.8 132.7h0M320.7 132.9h0M38.3 133.2h0M45.4 133.7h0M51.4 133.5h0M65.1 133.6h0M78.6 133.1h0M81.3 133.9h0M83.8 133.4h0M84.5 133.0h0M88.6 134.0h0M93.0 133.7h0M104.7 133.1h0M116.7 133.3h0M127.9 133.0h0M128.7 133.4h0M130.8 133.0h0M147.0 133.2h0M153.8 133.5h0M154.3 133.5h0M157.0 133.2h0M172.0 133.4h0M175.7 133.3h0M176.9 133.8h0M181.2 133.4h0M190.3 133.2h0M209.2 133.1h0M212.2 133.3h0M216.5 133.3h0M227.7 133.7h0M240.1 133.6h0M241.1 133.1h0M253.7 133.1h0M256.2 133.1h0M260.1 133.1h0M282.8 133.2h0M283.6 133.3h0M292.3 133.8h0M296.4 133.8h0M299.6 133.2h0M303.2 133.7h0M311.0 133.7h0M328.7 133.1h0M333.4 133.8h0M45.5 134.6h0M49.2 134.7h0M52.1 134.5h0M57.0 134.2h0M58.8 134.8h0M72.4 134.2h0M74.4 134.9h0M75.1 134.6h0M85.1 134.8h0M90.9 134.6h0M95.3 134.1h0M97.3 134.1h0M100.9 135.0h0M101.6 134.4h0M138.4 134.6h0M148.8 134.3h0M151.4 134.7h0M155.3 134.6h0M164.4 134.0h0M169.6 134.4h0M173.2 134.7h0M177.1 134.8h0M186.5 134.6h0M200.3 134.1h0M201.6 134.5h0M204.5 134.8h0M210.6 134.3h0M218.1 134.0h0M223.6 134.2h0M278.5 134.8h0M321.5 134.1h0M328.1 134.6h0M34.0 135.9h0M45.6 135.7h0M48.7 135.7h0M51.7 135.5h0M62.4 135.5h0M75.4 135.7h0M93.5 135.6h0M106.2 135.4h0M141.0 135.2h0M156.9 135.6h0M169.6 135.5h0M182.9 135.7h0M191.5 135.5h0M194.5 135.5h0M205.5 135.7h0M206.9 135.1h0M208.4 135.2h0M229.0 135.6h0M234.1 135.2h0M246.6 135.0h0M250.2 136.0h0M252.4 135.4h0M253.2 135.6h0M254.2 136.0h0M256.9 135.1h0M257.5 135.5h0M271.9 135.5h0M273.8 135.7h0M275.7 135.5h0M281.5 135.1h0M282.7 135.9h0M283.3 135.0h0M294.8 135.7h0M303.4 135.7h0M304.0 135.1h0M320.7 135.5h0M329.5 135.1h0M21.1 136.9h0M35.5 136.3h0M43.8 136.6h0M77.4 136.6h0M85.3 136.3h0M87.0 136.4h0M89.8 136.8h0M95.3 136.4h0M104.1 136.9h0M105.9 137.0h0M107.9 136.4h0M129.7 136.8h0M131.2 136.3h0M137.6 136.6h0M149.2 136.2h0M157.6 136.5h0M170.6 136.7h0M177.0 136.1h0M178.8 137.0h0M180.6 136.4h0M191.5 136.5h0M219.5 136.0h0M222.5 136.7h0M231.7 136.8h0M239.0 136.9h0M250.5 136.5h0M253.9 136.4h0M257.5 136.3h0M258.2 136.7h0M269.9 136.3h0M280.2 136.6h0M282.2 136.9h0M287.7 136.1h0M296.1 136.9h0M302.9 136.6h0M332.5 136.9h0M19.2 138.0h0M73.7 137.0h0M74.6 137.4h0M94.8 137.8h0M97.3 137.3h0M106.9 137.9h0M120.0 137.3h0M124.3 137.2h0M126.8 137.6h0M129.2 137.2h0M132.5 137.5h0M147.6 137.6h0M156.6 137.8h0M160.7 137.4h0M169.3 138.0h0M170.8 137.7h0M175.8 137.0h0M183.9 137.8h0M201.1 137.3h0M203.7 137.3h0M207.3 137.9h0M215.8 137.2h0M224.3 137.1h0M261.7 137.9h0M305.0 137.2h0M324.5 137.5h0M35.6 138.2h0M59.8 138.4h0M68.1 138.7h0M98.7 138.9h0M122.3 138.4h0M138.6 138.6h0M156.6 138.7h0M161.4 138.6h0M165.6 138.5h0M168.5 138.1h0M196.1 138.3h0M200.5 138.2h0M203.0 138.3h0M209.7 138.6h0M221.4 138.5h0M223.2 138.2h0M226.9 138.7h0M229.1 138.7h0M246.8 138.0h0M275.0 138.5h0M279.3 138.4h0M285.3 139.0h0M295.3 138.3h0M324.4 138.0h0M334.3 138.2h0M45.0 139.7h0M53.6 139.9h0M58.0 139.8h0M84.9 139.0h0M94.0 139.9h0M94.6 139.9h0M102.3 139.9h0M105.9 139.8h0M107.0 139.6h0M130.9 139.7h0M143.0 139.8h0M148.1 139.3h0M156.5 139.7h0M162.4 139.0h0M194.3 139.4h0M212.9 140.0h0M226.3 139.4h0M239.4 139.2h0M247.0 139.1h0M256.7 139.8h0M259.7 139.0h0M260.4 139.3h0M268.3 139.4h0M274.0 139.1h0M286.0 139.7h0M287.3 139.8h0M290.1 139.1h0M291.8 139.5h0M312.6 139.5h0M319.4 139.2h0M321.2 139.1h0M335.6 139.7h0M26.5 140.6h0M35.1 140.3h0M96.3 140.8h0M99.3 140.2h0M108.5 140.7h0M120.3 140.6h0M127.9 140.3h0M134.5 140.5h0M137.5 140.1h0M140.6 140.9h0M145.0 140.9h0M149.1 140.4h0M163.0 140.5h0M166.5 140.4h0M171.5 140.3h0M184.6 140.8h0M187.7 140.8h0M201.7 140.7h0M234.6 140.6h0M243.4 140.4h0M249.5 140.2h0M252.0 140.9h0M253.2 140.0h0M267.4 140.9h0M290.3 140.2h0M300.3 140.9h0M301.6 140.2h0M31.3 141.1h0M41.6 141.9h0M80.5 141.2h0M97.6 141.8h0M126.7 141.4h0M138.5 141.9h0M140.8 142.0h0M166.9 141.5h0M176.5 141.6h0M179.7 141.2h0M180.4 141.6h0M181.8 141.5h0M184.4 141.9h0M189.4 141.3h0M193.1 141.5h0M195.9 141.6h0M197.9 141.0h0M201.3 141.5h0M202.9 141.0h0M204.8 141.2h0M209.1 141.2h0M214.8 141.4h0M220.1 141.2h0M223.5 141.5h0M227.4 141.6h0M229.8 141.2h0M235.7 141.4h0M237.3 141.6h0M241.3 141.9h0M253.8 141.2h0M275.8 141.4h0M283.9 141.6h0M286.0 141.3h0M290.4 141.7h0M291.8 141.6h0M304.5 141.8h0M305.3 141.6h0M314.4 141.2h0M334.7 141.1h0M341.8 141.4h0M19.0 142.9h0M21.7 142.2h0M34.0 142.7h0M35.7 142.4h0M80.6 142.2h0M81.2 142.7h0M97.3 142.3h0M105.5 143.0h0M106.5 142.6h0M116.6 143.0h0M127.4 142.5h0M133.7 142.6h0M165.8 142.0h0M169.3 142.2h0M178.7 142.7h0M179.5 142.1h0M182.1 142.3h0M184.7 142.3h0M188.5 142.6h0M196.5 142.9h0M201.0 142.5h0M232.3 143.0h0M235.4 142.7h0M241.9 142.8h0M243.4 142.3h0M249.8 142.6h0M251.4 142.5h0M252.7 142.6h0M254.9 142.8h0M256.2 142.4h0M265.1 142.1h0M281.5 142.1h0M283.8 142.8h0M318.2 142.4h0M336.7 142.1h0M342.7 142.8h0M18.8 143.3h0M37.9 143.5h0M39.2 143.4h0M40.7 143.4h0M46.6 143.1h0M52.4 143.8h0M63.5 143.3h0M81.1 143.9h0M108.9 143.8h0M113.9 143.8h0M115.7 143.4h0M117.0 143.0h0M126.8 143.2h0M133.9 143.2h0M136.6 143.2h0M137.3 143.4h0M162.6 143.1h0M167.8 143.9h0M173.5 143.4h0M174.8 143.7h0M185.9 143.1h0M216.5 143.3h0M241.5 144.0h0M244.6 143.8h0M248.5 143.3h0M250.3 143.4h0M276.6 143.9h0M287.9 143.4h0M291.7 143.5h0M293.4 143.8h0M294.3 143.7h0M296.7 143.2h0M297.1 143.5h0M301.2 143.9h0M325.3 143.5h0M43.4 144.3h0M65.4 144.6h0M95.0 144.7h0M96.6 144.5h0M107.8 144.2h0M120.2 144.3h0M121.2 144.8h0M125.2 144.2h0M138.8 144.6h0M143.9 144.2h0M153.7 144.9h0M156.0 144.4h0M163.5 144.6h0M168.8 144.3h0M175.0 144.6h0M187.5 144.3h0M197.7 144.2h0M200.2 144.4h0M204.1 144.7h0M242.2 144.3h0M260.6 144.3h0M264.5 144.5h0M268.3 144.9h0M271.1 144.9h0M276.0 144.5h0M282.8 144.4h0M284.1 144.1h0M293.9 144.5h0M302.0 144.9h0M335.0 144.9h0M36.4 145.7h0M42.5 145.4h0M50.5 145.1h0M74.5 145.9h0M75.3 145.3h0M100.0 146.0h0M100.1 146.0h0M101.8 145.7h0M106.4 145.3h0M108.3 145.2h0M109.9 145.4h0M114.1 145.3h0M115.3 146.0h0M118.7 145.6h0M123.6 145.5h0M127.7 145.6h0M130.6 145.6h0M147.2 145.9h0M148.7 145.4h0M150.0 145.9h0M150.2 146.0h0M161.9 146.0h0M166.0 145.1h0M182.0 145.6h0M184.1 146.0h0M187.0 145.7h0M187.5 145.7h0M202.6 145.5h0M204.7 145.7h0M206.9 145.3h0M209.2 146.0h0M215.6 145.9h0M228.4 145.0h0M240.1 145.3h0M246.8 145.2h0M247.7 145.1h0M251.9 145.9h0M260.3 145.7h0M262.7 145.1h0M264.7 146.0h0M274.4 145.4h0M281.0 145.9h0M289.3 145.8h0M292.9 145.4h0M296.4 145.5h0M306.9 145.3h0M308.9 145.5h0M29.2 146.2h0M32.5 146.2h0M33.5 146.2h0M35.2 146.4h0M42.1 146.3h0M47.8 146.4h0M51.8 146.7h0M58.0 146.7h0M62.5 146.2h0M74.9 146.5h0M89.7 146.9h0M108.6 146.6h0M114.0 146.0h0M122.4 146.0h0M123.7 146.7h0M129.7 146.1h0M136.2 146.6h0M146.2 146.7h0M147.8 146.3h0M156.6 146.2h0M164.7 146.4h0M168.1 146.3h0M181.3 146.1h0M184.8 146.7h0M191.9 146.8h0M196.1 146.7h0M219.1 146.6h0M220.9 146.4h0M224.3 146.9h0M243.1 146.7h0M248.3 146.2h0M283.9 147.0h0M286.3 146.1h0M288.1 146.3h0M291.7 147.0h0M295.0 146.1h0M305.4 146.5h0M59.4 147.6h0M82.5 147.8h0M89.4 147.8h0M106.1 147.1h0M108.4 147.7h0M110.9 147.1h0M121.1 147.3h0M124.6 147.1h0M125.2 147.1h0M151.2 147.3h0M152.1 148.0h0M156.0 147.1h0M159.4 147.4h0M180.0 147.3h0M192.7 147.2h0M202.7 147.2h0M203.7 147.8h0M213.4 147.7h0M240.2 147.6h0M248.9 147.1h0M251.6 147.0h0M261.8 147.1h0M263.9 147.4h0M266.0 148.0h0M266.9 147.0h0M282.6 147.7h0M286.8 147.7h0M292.6 147.5h0M293.0 147.2h0M300.0 147.9h0M303.2 147.4h0M306.4 147.6h0M317.5 147.9h0M318.1 147.6h0M30.1 148.0h0M38.1 148.2h0M39.6 148.0h0M106.5 148.4h0M108.5 148.6h0M115.4 149.0h0M118.7 148.4h0M128.2 148.7h0M130.2 148.4h0M137.8 148.2h0M142.8 148.9h0M154.7 148.3h0M155.2 148.7h0M156.5 148.2h0M164.2 148.2h0M171.2 149.0h0M172.4 148.8h0M179.8 148.2h0M202.1 148.7h0M212.4 148.9h0M219.9 148.7h0M226.3 148.5h0M240.2 148.3h0M247.5 148.3h0M255.3 148.5h0M264.1 148.4h0M268.9 148.1h0M276.0 148.6h0M294.1 148.0h0M301.3 148.8h0M308.2 148.6h0M311.8 148.0h0M325.6 148.8h0M330.6 148.8h0M331.9 148.6h0M340.6 148.5h0M33.1 149.5h0M47.4 149.3h0M64.5 149.9h0M70.8 149.5h0M83.0 149.6h0M103.9 149.6h0M113.3 149.7h0M117.8 149.7h0M121.6 149.1h0M133.0 149.4h0M137.4 149.5h0M141.8 149.9h0M147.8 149.5h0M150.4 149.3h0M158.1 149.9h0M172.4 149.7h0M176.7 150.0h0M183.3 149.2h0M184.7 149.5h0M185.4 149.5h0M188.0 149.9h0M197.7 149.1h0M225.1 149.9h0M231.8 149.4h0M241.5 149.2h0M249.1 149.8h0M254.2 149.2h0M267.7 149.8h0M277.5 149.1h0M279.7 149.1h0M286.4 149.7h0M287.3 149.3h0M296.6 149.8h0M301.3 149.6h0M303.0 149.5h0M312.5 149.3h0M317.6 149.5h0M321.8 149.3h0M335.4 149.6h0M25.9 150.2h0M38.1 150.8h0M59.0 150.4h0M65.7 150.9h0M74.9 150.7h0M80.1 150.5h0M90.5 150.2h0M91.6 150.6h0M109.9 150.8h0M117.7 150.3h0M119.3 150.2h0M134.5 151.0h0M144.1 150.7h0M153.7 151.0h0M173.5 150.6h0M177.4 150.2h0M182.8 150.7h0M185.6 150.2h0M193.2 150.3h0M195.3 150.0h0M215.5 150.3h0M234.8 150.8h0M243.8 150.9h0M245.9 150.3h0M250.4 150.0h0M256.7 150.2h0M282.1 151.0h0M292.4 150.8h0M296.2 150.0h0M298.8 150.4h0M300.6 150.7h0M303.5 150.9h0M304.4 150.2h0M305.8 150.6h0M311.3 150.3h0M315.0 150.1h0M33.1 151.1h0M35.5 151.9h0M57.4 151.2h0M62.2 151.1h0M67.0 151.8h0M79.8 151.4h0M81.0 151.7h0M110.2 151.9h0M111.2 151.4h0M119.1 151.9h0M121.6 151.5h0M122.5 151.8h0M124.5 151.1h0M134.4 151.5h0M144.5 151.6h0M161.4 151.7h0M173.1 151.4h0M176.9 151.9h0M177.5 151.7h0M185.8 151.2h0M191.0 151.7h0M196.8 151.7h0M223.2 151.1h0M246.0 151.2h0M249.3 151.5h0M263.4 151.6h0M272.8 151.4h0M273.8 151.2h0M280.1 151.7h0M281.5 151.1h0M286.6 151.9h0M303.5 151.9h0M304.7 151.3h0M306.1 151.9h0M325.0 151.9h0M326.6 151.1h0M27.1 152.2h0M38.0 152.9h0M61.6 152.5h0M108.8 152.2h0M113.6 152.6h0M114.0 152.5h0M119.5 152.6h0M120.4 152.1h0M127.7 152.0h0M134.2 152.3h0M138.8 152.2h0M144.2 152.7h0M145.9 152.4h0M146.2 152.3h0M149.6 152.5h0M151.2 152.7h0M152.7 152.9h0M158.9 152.3h0M173.8 152.4h0M183.9 152.7h0M187.5 153.0h0M199.3 152.6h0M209.5 152.2h0M212.7 152.3h0M222.6 152.0h0M229.8 153.0h0M230.8 152.0h0M252.6 152.4h0M256.1 152.4h0M264.4 152.8h0M282.4 152.5h0M290.7 152.8h0M291.0 152.5h0M300.0 152.9h0M308.7 152.6h0M325.4 152.2h0M332.3 152.2h0M43.0 153.1h0M51.1 153.8h0M58.8 154.0h0M65.9 153.5h0M92.7 153.5h0M109.1 153.0h0M112.7 153.1h0M121.2 153.7h0M122.3 153.2h0M135.1 153.9h0M146.8 153.2h0M150.8 153.6h0M182.6 153.7h0M185.8 153.6h0M198.3 153.8h0M208.6 153.9h0M223.2 154.0h0M226.1 153.5h0M227.8 153.1h0M232.0 153.9h0M235.2 153.9h0M236.4 153.4h0M243.4 153.2h0M252.6 153.1h0M265.5 153.8h0M268.8 153.7h0M283.6 153.2h0M285.6 153.8h0M305.7 153.5h0M308.8 153.1h0M310.1 153.6h0M312.7 153.2h0M325.1 153.5h0M343.8 153.2h0M32.8 154.3h0M98.5 154.5h0M109.2 154.5h0M113.3 154.6h0M115.2 154.9h0M119.2 154.4h0M121.6 154.7h0M137.9 154.8h0M145.0 154.2h0M148.7 154.0h0M149.4 154.5h0M158.1 154.8h0M167.7 154.5h0M173.6 154.3h0M181.1 154.9h0M190.4 154.9h0M208.2 154.2h0M223.6 154.1h0M260.1 154.1h0M262.2 154.3h0M274.5 154.6h0M275.1 154.5h0M300.4 154.6h0M309.2 154.2h0M46.7 155.6h0M56.6 155.7h0M76.9 155.4h0M84.2 155.1h0M87.5 155.8h0M93.6 155.4h0M98.6 155.5h0M109.0 155.8h0M111.7 155.2h0M123.7 155.2h0M130.7 155.8h0M132.6 155.1h0M138.5 155.4h0M142.5 155.3h0M146.8 155.6h0M154.1 155.8h0M159.3 155.6h0M160.2 155.5h0M168.0 155.0h0M169.4 155.7h0M171.0 156.0h0M192.3 156.0h0M194.2 155.8h0M199.4 155.2h0M203.4 155.9h0M204.8 155.7h0M206.6 155.0h0M210.2 155.6h0M214.4 156.0h0M215.1 155.7h0M224.6 155.4h0M248.9 155.7h0M254.9 155.4h0M257.6 155.7h0M262.2 155.2h0M263.3 155.5h0M281.9 156.0h0M285.6 155.5h0M288.6 156.0h0M289.5 155.0h0M298.1 156.0h0M313.8 155.2h0M318.6 155.2h0M328.8 155.9h0M38.3 156.7h0M43.0 156.1h0M78.2 156.1h0M92.0 156.1h0M131.6 156.9h0M155.3 156.6h0M160.2 156.8h0M164.6 156.2h0M169.0 156.1h0M177.0 156.7h0M187.0 156.0h0M189.7 157.0h0M191.7 156.6h0M200.3 156.8h0M202.0 156.1h0M207.2 156.4h0M210.4 157.0h0M239.4 156.2h0M249.5 156.5h0M250.1 156.7h0M253.0 156.1h0M258.5 156.9h0M264.2 156.5h0M275.0 156.5h0M287.2 156.4h0M304.2 156.6h0M320.9 156.4h0M322.2 156.4h0M40.7 157.4h0M47.6 157.4h0M76.4 157.7h0M96.0 157.7h0M112.0 157.5h0M117.4 157.7h0M177.8 157.6h0M185.2 157.6h0M188.8 157.8h0M195.1 158.0h0M198.4 157.2h0M202.6 157.4h0M203.1 157.1h0M209.0 157.7h0M215.1 157.5h0M233.4 157.7h0M235.0 157.7h0M236.8 157.3h0M244.0 157.5h0M270.4 158.0h0M274.7 157.4h0M299.6 157.3h0M320.8 157.1h0M74.4 158.3h0M78.3 158.8h0M106.3 158.5h0M119.5 158.1h0M123.5 158.7h0M140.5 158.2h0M147.5 158.6h0M152.5 158.1h0M189.9 158.3h0M198.4 158.7h0M199.6 158.7h0M214.1 158.3h0M220.1 158.3h0M222.6 158.9h0M227.5 158.4h0M294.5 158.3h0M302.5 158.6h0M306.4 158.3h0M319.6 158.2h0M51.8 160.0h0M66.3 159.8h0M84.0 159.9h0M86.6 159.6h0M106.3 159.8h0M130.0 159.6h0M149.9 159.0h0M196.8 159.3h0M203.2 159.1h0M209.5 159.1h0M213.3 159.2h0M223.0 159.8h0M229.2 159.7h0M231.6 159.8h0M254.9 159.8h0M257.6 159.6h0M259.8 159.2h0M291.2 159.6h0M292.2 159.6h0M295.7 159.8h0M303.7 159.7h0M311.7 160.0h0M322.5 159.1h0M328.1 159.7h0M330.6 159.3h0M58.2 160.2h0M68.4 160.6h0M96.2 160.0h0M124.3 160.4h0M127.0 160.9h0M132.3 160.9h0M189.0 160.3h0M199.2 160.6h0M206.9 160.9h0M211.2 160.2h0M214.9 160.5h0M237.1 160.8h0M258.5 161.0h0M269.5 160.4h0M270.5 160.2h0M272.6 160.7h0M278.8 160.5h0M286.8 160.6h0M290.0 160.8h0M302.8 160.0h0M310.6 160.6h0M314.3 160.9h0M335.1 160.6h0M76.7 161.7h0M90.3 161.7h0M120.8 161.9h0M123.8 161.3h0M133.8 161.2h0M137.3 161.4h0M140.9 161.1h0M148.0 161.7h0M156.4 161.0h0M174.3 161.3h0M188.3 161.4h0M194.5 161.7h0M197.8 161.8h0M209.9 161.7h0M210.2 161.1h0M214.7 161.1h0M235.3 161.9h0M242.0 161.8h0M246.7 161.6h0M262.9 161.0h0M266.9 161.7h0M267.4 161.2h0M274.3 161.5h0M275.3 161.9h0M282.5 161.8h0M299.3 161.6h0M304.8 161.5h0M318.5 161.1h0M45.4 162.3h0M54.6 162.1h0M81.5 163.0h0M100.3 162.0h0M117.1 162.9h0M122.9 162.1h0M124.9 162.4h0M129.6 162.2h0M131.7 162.9h0M133.0 162.1h0M136.2 162.3h0M161.0 162.8h0M162.9 162.5h0M191.3 162.6h0M203.5 162.2h0M204.7 162.1h0M208.9 162.2h0M227.1 163.0h0M231.6 162.7h0M234.6 162.9h0M243.1 162.6h0M247.0 162.0h0M251.2 162.6h0M256.6 162.9h0M257.0 162.8h0M266.7 162.7h0M285.9 162.1h0M306.1 162.7h0M308.3 162.7h0M321.2 162.7h0M328.8 162.1h0M332.1 162.2h0M49.7 163.0h0M62.5 163.1h0M68.3 163.1h0M75.8 163.0h0M81.6 164.0h0M86.7 163.5h0M90.7 163.1h0M91.8 163.6h0M93.3 163.2h0M111.9 163.5h0M114.3 163.8h0M120.6 163.0h0M139.0 163.8h0M147.0 163.4h0M183.4 163.6h0M187.7 163.3h0M189.9 163.9h0M190.5 163.6h0M194.8 163.9h0M195.6 163.3h0M196.1 163.8h0M202.0 163.1h0M205.6 163.5h0M207.6 163.1h0M208.2 163.2h0M211.0 163.6h0M212.6 163.8h0M226.9 163.7h0M227.0 163.0h0M231.0 163.6h0M236.5 163.1h0M250.4 163.9h0M256.8 163.3h0M279.8 163.5h0M288.8 163.8h0M300.6 164.0h0M301.4 163.6h0M308.9 163.6h0M316.7 163.4h0M320.7 163.9h0M99.7 164.9h0M124.3 164.6h0M140.4 164.6h0M144.2 164.3h0M145.0 164.6h0M152.0 164.2h0M152.4 164.8h0M154.8 164.9h0M179.9 164.5h0M186.9 164.6h0M210.2 164.9h0M223.6 164.3h0M225.6 164.9h0M232.6 164.0h0M252.5 164.9h0M258.1 164.2h0M263.5 164.5h0M272.6 165.0h0M274.2 164.6h0M276.0 164.8h0M277.9 164.7h0M289.0 164.7h0M300.1 164.6h0M311.6 164.5h0M316.5 164.4h0M328.4 164.3h0M334.2 164.2h0M42.6 165.1h0M58.3 166.0h0M96.3 165.2h0M114.8 165.2h0M117.5 165.0h0M131.5 165.7h0M133.7 165.8h0M148.1 165.4h0M158.7 165.4h0M159.5 165.4h0M162.9 165.2h0M164.6 165.4h0M194.7 165.4h0M204.7 165.7h0M205.9 165.8h0M208.5 165.9h0M220.9 165.6h0M239.3 165.8h0M249.2 165.3h0M253.1 165.0h0M258.0 165.7h0M277.1 165.3h0M286.9 165.2h0M288.3 165.4h0M289.1 165.8h0M294.7 165.8h0M318.6 165.0h0M49.7 166.1h0M54.3 167.0h0M65.5 166.5h0M86.7 166.6h0M91.8 166.5h0M93.7 166.2h0M96.7 166.0h0M107.2 166.2h0M111.1 166.9h0M122.3 166.3h0M126.1 166.3h0M131.7 166.9h0M146.8 166.1h0M158.8 166.2h0M161.2 166.9h0M167.9 166.1h0M170.2 166.3h0M172.5 166.7h0M173.1 166.4h0M192.8 166.1h0M198.9 166.4h0M209.6 166.6h0M212.8 166.1h0M214.9 166.3h0M228.1 166.9h0M229.8 167.0h0M236.9 166.5h0M241.3 166.1h0M260.3 166.8h0M271.7 166.4h0M283.2 166.0h0M301.6 166.3h0M306.3 166.6h0M309.9 166.1h0M340.5 166.3h0M52.4 167.0h0M61.4 167.4h0M65.1 167.5h0M91.1 167.5h0M94.8 167.1h0M97.8 167.4h0M111.3 167.4h0M117.8 168.0h0M136.9 167.1h0M144.5 167.9h0M148.6 167.8h0M161.3 167.6h0M163.4 167.1h0M171.2 167.1h0M194.3 167.3h0M195.4 167.4h0M196.3 167.3h0M203.7 167.2h0M217.5 167.8h0M220.6 167.6h0M221.7 167.5h0M225.2 167.8h0M230.5 167.1h0M250.3 167.3h0M264.6 167.8h0M277.4 167.4h0M279.0 167.0h0M288.5 167.8h0M295.7 167.7h0M297.8 167.1h0M302.9 167.3h0M306.4 167.6h0M310.1 167.2h0M316.2 167.9h0M317.8 167.2h0M334.1 167.3h0M84.5 168.8h0M115.4 168.6h0M119.6 168.8h0M138.5 168.6h0M142.1 168.5h0M145.4 168.1h0M150.8 168.8h0M157.7 168.7h0M161.5 168.7h0M164.8 168.2h0M167.8 168.5h0M174.3 168.9h0M206.5 168.1h0M208.2 168.5h0M209.3 168.9h0M214.0 168.6h0M216.6 169.0h0M218.4 168.4h0M229.7 168.1h0M232.5 168.0h0M237.8 168.4h0M252.4 168.1h0M264.1 168.7h0M280.7 168.5h0M283.9 168.2h0M300.5 168.3h0M302.3 168.3h0M306.5 168.9h0M309.3 168.4h0M315.4 168.8h0M321.6 168.1h0M334.8 168.1h0M339.0 168.6h0M120.4 169.6h0M121.7 169.1h0M130.4 169.4h0M151.2 169.8h0M169.8 169.4h0M205.3 169.7h0M207.5 169.1h0M211.7 169.4h0M214.2 169.4h0M218.6 169.4h0M219.6 169.7h0M220.7 169.7h0M222.2 169.5h0M226.2 169.0h0M229.7 169.8h0M239.0 169.7h0M277.6 170.0h0M280.9 169.6h0M301.8 169.6h0M310.5 169.2h0M318.7 169.5h0M331.2 169.2h0M335.8 169.3h0M340.7 169.7h0M343.5 169.6h0M70.3 170.1h0M83.1 170.7h0M113.2 170.7h0M134.6 170.1h0M137.6 170.1h0M138.5 170.3h0M143.1 170.9h0M150.1 170.4h0M154.2 170.8h0M156.7 170.3h0M158.8 170.0h0M181.3 170.5h0M183.0 170.7h0M188.6 171.0h0M200.9 170.9h0M208.9 170.7h0M214.2 170.3h0M225.8 170.7h0M226.5 170.1h0M229.9 170.4h0M239.9 170.1h0M264.8 170.5h0M271.0 170.8h0M272.6 170.7h0M278.3 170.6h0M283.4 170.9h0M285.7 170.2h0M288.9 171.0h0M294.8 170.4h0M303.4 170.7h0M322.2 170.1h0M331.4 170.2h0M335.0 170.7h0M81.4 171.2h0M82.4 171.7h0M104.9 171.2h0M116.2 171.3h0M121.5 171.0h0M129.3 171.3h0M136.8 171.5h0M151.6 171.4h0M170.6 171.7h0M192.0 171.7h0M208.7 171.9h0M216.3 171.2h0M217.5 171.2h0M220.0 171.8h0M236.8 171.5h0M244.4 171.2h0M248.0 171.3h0M253.7 171.1h0M260.1 171.1h0M265.3 171.3h0M267.3 171.1h0M268.6 171.3h0M277.7 171.6h0M333.5 171.6h0M83.8 172.4h0M114.1 172.8h0M131.2 172.8h0M140.8 172.5h0M146.3 172.1h0M157.1 172.8h0M159.8 172.3h0M169.2 172.4h0M173.2 172.1h0M174.1 172.2h0M180.5 172.9h0M181.1 172.1h0M182.0 172.3h0M184.8 172.7h0M190.6 172.2h0M191.2 172.5h0M207.3 172.3h0M217.8 172.9h0M224.1 172.3h0M226.0 172.9h0M236.5 172.3h0M238.0 172.0h0M243.2 172.3h0M258.8 172.5h0M275.9 172.6h0M276.2 172.3h0M282.6 172.0h0M287.4 172.4h0M296.3 173.0h0M313.8 172.1h0M317.5 172.3h0M319.9 172.1h0M321.2 172.7h0M340.1 172.9h0M101.1 173.6h0M117.0 173.8h0M130.7 173.7h0M153.2 173.1h0M163.9 173.4h0M166.5 173.9h0M170.8 173.7h0M174.8 173.5h0M176.9 173.4h0M178.0 173.8h0M183.5 173.7h0M195.7 173.6h0M197.8 173.3h0M203.7 173.2h0M205.2 173.7h0M208.2 173.7h0M209.5 173.5h0M215.1 173.0h0M222.7 173.8h0M223.9 173.6h0M235.3 173.7h0M241.9 173.2h0M242.4 173.4h0M281.7 173.4h0M284.2 173.3h0M287.7 173.8h0M298.8 173.5h0M304.8 173.9h0M312.5 173.3h0M336.7 173.4h0M338.4 173.6h0M84.6 175.0h0M93.9 174.7h0M108.3 174.5h0M113.7 174.3h0M136.0 174.2h0M141.9 174.2h0M146.6 175.0h0M158.2 174.1h0M161.2 174.7h0M165.7 174.6h0M169.1 174.9h0M181.9 174.3h0M191.4 174.5h0M203.3 175.0h0M212.9 174.3h0M218.1 174.3h0M230.7 174.6h0M233.0 174.8h0M236.5 174.1h0M259.1 174.8h0M279.0 174.7h0M281.7 174.4h0M287.7 174.3h0M288.9 174.5h0M294.3 174.3h0M296.7 174.9h0M305.3 174.8h0M309.2 174.2h0M326.6 174.4h0M329.4 174.8h0M343.1 174.2h0M349.3 174.5h0M79.1 175.6h0M84.8 175.4h0M98.9 175.4h0M101.5 175.2h0M116.8 175.5h0M121.8 175.4h0M122.6 175.5h0M136.4 175.0h0M148.0 175.1h0M155.0 175.0h0M181.5 175.6h0M197.2 175.5h0M198.6 175.6h0M209.0 175.1h0M221.8 175.2h0M228.5 175.0h0M245.2 175.1h0M248.1 176.0h0M277.1 175.8h0M281.6 175.7h0M286.4 175.8h0M293.0 175.8h0M299.7 175.5h0M311.7 175.7h0M321.1 175.4h0M322.5 175.2h0M327.5 175.5h0M118.5 176.2h0M123.6 176.7h0M132.0 176.5h0M139.9 176.7h0M153.8 176.2h0M156.6 176.7h0M159.5 176.3h0M161.1 176.2h0M163.5 176.3h0M165.1 176.8h0M169.9 176.2h0M171.9 176.5h0M179.0 176.6h0M193.3 176.5h0M196.7 176.5h0M202.5 176.4h0M215.8 177.0h0M221.6 176.5h0M226.8 176.2h0M233.2 176.7h0M239.0 176.7h0M240.9 176.6h0M249.6 176.7h0M251.1 176.5h0M272.1 176.1h0M294.4 176.2h0M296.1 176.9h0M301.1 176.8h0M303.6 176.1h0M316.4 176.2h0M326.7 176.4h0M329.7 176.7h0M331.0 176.1h0M338.6 176.3h0M344.4 176.5h0M112.1 177.6h0M123.9 177.8h0M156.6 177.8h0M165.7 177.6h0M169.5 177.3h0M176.9 177.3h0M180.7 177.3h0M196.0 177.0h0M196.6 177.6h0M200.8 177.5h0M213.0 177.5h0M213.5 177.0h0M218.2 177.8h0M228.3 177.1h0M230.1 177.2h0M234.1 177.8h0M253.8 177.2h0M264.4 177.7h0M277.4 177.2h0M311.1 177.5h0M318.6 177.3h0M332.9 178.0h0M334.4 177.1h0M83.6 178.6h0M97.9 178.5h0M106.1 179.0h0M107.8 178.7h0M120.9 178.3h0M127.2 178.5h0M138.0 178.6h0M154.7 178.4h0M165.3 178.2h0M166.7 178.9h0M172.2 178.9h0M176.1 178.5h0M185.1 178.1h0M207.4 178.5h0M220.3 178.5h0M227.3 178.3h0M241.2 178.1h0M274.1 179.0h0M292.2 178.2h0M297.7 178.9h0M315.1 178.5h0M323.7 178.6h0M329.3 178.5h0M124.0 179.4h0M136.0 179.4h0M149.5 179.1h0M155.3 179.4h0M175.9 179.2h0M187.9 180.0h0M188.3 179.7h0M191.2 179.7h0M201.9 179.2h0M209.1 179.8h0M210.1 179.3h0M232.4 179.9h0M247.6 180.0h0M257.2 180.0h0M266.9 180.0h0M281.6 180.0h0M284.0 179.6h0M322.9 179.1h0M324.0 179.9h0M341.4 179.5h0M343.3 179.4h0M93.5 181.0h0M129.2 180.2h0M130.2 180.5h0M137.4 180.8h0M145.7 180.6h0M161.5 180.9h0M168.2 180.0h0M175.6 180.4h0M178.1 180.8h0M181.0 180.0h0M188.0 180.5h0M198.5 180.8h0M199.9 180.7h0M212.9 180.7h0M224.2 180.1h0M225.5 180.9h0M229.5 180.4h0M263.9 181.0h0M266.4 180.6h0M294.8 180.0h0M305.5 180.0h0M315.3 180.8h0M317.9 180.3h0M325.4 180.7h0M327.5 180.4h0M328.5 180.5h0M331.2 180.2h0M335.2 180.7h0M351.1 180.1h0M109.2 181.2h0M110.4 181.6h0M121.7 181.8h0M134.5 181.3h0M141.1 181.1h0M152.9 181.3h0M164.8 181.3h0M170.2 181.1h0M181.4 181.8h0M191.9 181.7h0M199.5 181.1h0M202.2 181.1h0M204.4 181.2h0M224.0 181.3h0M227.9 181.5h0M232.6 181.4h0M233.9 181.4h0M246.7 181.8h0M247.7 181.8h0M248.3 181.3h0M253.9 181.4h0M274.2 181.9h0M314.4 181.9h0M326.0 181.7h0M329.9 181.5h0M337.9 181.8h0M346.0 181.4h0M348.9 181.6h0M108.0 182.5h0M142.1 182.7h0M144.8 182.3h0M149.2 182.2h0M157.6 182.4h0M165.7 182.4h0M172.8 182.9h0M174.7 182.3h0M187.0 182.9h0M198.1 182.3h0M201.5 182.3h0M211.5 182.9h0M217.1 182.4h0M222.2 182.4h0M239.1 182.8h0M245.7 182.7h0M269.0 182.9h0M270.5 182.6h0M272.2 182.6h0M273.5 182.5h0M280.0 182.4h0M281.1 182.2h0M318.2 182.5h0M327.6 182.9h0M334.4 182.1h0M336.7 182.3h0M113.3 183.3h0M132.9 183.9h0M133.5 183.8h0M136.9 183.1h0M166.6 183.7h0M167.7 183.7h0M172.7 183.7h0M180.8 183.7h0M182.4 183.1h0M194.7 183.1h0M203.3 183.9h0M211.8 183.6h0M219.5 183.4h0M221.2 183.9h0M224.8 183.3h0M229.9 184.0h0M251.3 183.9h0M252.9 184.0h0M270.5 183.6h0M272.9 183.5h0M279.7 183.3h0M284.4 183.7h0M310.5 183.6h0M321.7 183.6h0M326.4 183.5h0M327.2 183.2h0M338.0 183.2h0M127.9 184.6h0M138.4 184.5h0M140.3 184.9h0M171.2 184.1h0M187.4 185.0h0M194.0 184.5h0M196.3 184.7h0M198.0 184.8h0M199.7 184.4h0M201.9 184.2h0M211.8 184.2h0M214.1 185.0h0M219.1 184.8h0M221.2 184.3h0M234.0 184.4h0M258.6 184.1h0M262.2 184.8h0M267.0 184.9h0M267.6 184.1h0M276.0 184.0h0M283.5 184.2h0M286.6 184.4h0M292.2 184.4h0M307.0 184.3h0M318.1 184.2h0M329.7 184.8h0M330.6 184.2h0M335.4 184.5h0M133.0 185.1h0M133.1 185.7h0M146.9 185.5h0M173.7 185.2h0M202.8 185.1h0M210.2 185.1h0M212.0 185.5h0M215.3 185.4h0M230.1 185.9h0M234.2 186.0h0M241.8 185.7h0M256.9 185.1h0M258.1 185.1h0M275.9 185.4h0M291.8 185.4h0M298.1 185.9h0M317.2 185.4h0M322.5 185.4h0M323.8 185.8h0M328.2 185.0h0M336.6 185.0h0M338.4 185.9h0M339.8 185.3h0M351.6 185.4h0M352.4 185.2h0M353.7 186.0h0M127.0 186.5h0M129.4 186.4h0M144.3 186.3h0M145.5 186.8h0M166.7 186.8h0M185.7 186.1h0M189.2 187.0h0M192.1 186.6h0M194.7 186.7h0M203.2 186.5h0M207.1 186.8h0M209.2 186.9h0M211.3 186.1h0M221.9 186.1h0M240.6 186.9h0M301.8 186.3h0M309.1 186.7h0M320.4 186.9h0M328.8 186.3h0M329.5 186.6h0M332.2 186.1h0M335.7 186.4h0M340.9 186.9h0M348.8 186.8h0M135.1 187.1h0M139.8 187.0h0M158.6 187.7h0M174.5 187.6h0M177.2 187.5h0M196.5 187.1h0M205.7 187.6h0M220.8 187.7h0M228.6 187.3h0M229.7 187.5h0M254.0 187.2h0M268.9 187.5h0M281.0 187.3h0M282.2 187.7h0M311.7 187.8h0M316.6 187.3h0M320.2 188.0h0M327.6 188.0h0M335.2 187.1h0M337.9 187.7h0M338.7 187.5h0M340.2 187.6h0M346.5 187.0h0M347.3 187.5h0M141.8 188.2h0M182.3 188.2h0M193.1 188.7h0M196.8 188.3h0M198.7 188.3h0M205.1 188.2h0M211.2 188.2h0M212.6 188.8h0M214.4 188.3h0M215.9 188.8h0M217.1 188.9h0M222.5 188.9h0M223.9 188.8h0M224.9 188.9h0M225.9 188.5h0M226.5 188.8h0M232.6 188.7h0M238.4 188.9h0M246.1 188.9h0M250.8 188.1h0M305.9 188.7h0M312.5 188.1h0M329.4 188.6h0M330.4 188.6h0M332.1 188.2h0M335.5 188.5h0M342.3 188.3h0M343.7 188.3h0M347.8 188.9h0M348.7 188.7h0M141.8 189.6h0M155.7 189.2h0M198.2 189.2h0M206.3 189.3h0M216.5 189.3h0M218.2 189.1h0M219.5 189.7h0M227.9 189.4h0M229.5 189.5h0M235.9 189.9h0M243.8 189.9h0M244.1 189.1h0M259.9 189.7h0M265.8 189.5h0M267.9 189.2h0M279.1 189.1h0M295.6 189.5h0M302.3 189.7h0M354.8 189.5h0M141.1 190.0h0M187.4 190.2h0M203.4 190.0h0M216.6 190.3h0M227.2 190.0h0M244.9 190.9h0M250.5 190.3h0M261.4 190.8h0M271.1 190.5h0M276.2 190.6h0M277.3 190.1h0M285.0 190.2h0M299.8 190.1h0M310.6 190.1h0M311.4 190.0h0M318.2 190.3h0M331.7 190.4h0M333.9 190.3h0M335.4 190.2h0M344.1 190.8h0M348.1 190.0h0M350.1 190.5h0M150.7 191.4h0M156.4 191.6h0M167.6 191.6h0M179.7 191.3h0M187.0 191.7h0M194.5 191.3h0M213.1 191.4h0M214.1 192.0h0M216.0 191.5h0M218.3 191.0h0M232.0 191.1h0M267.7 191.8h0M300.2 191.7h0M320.3 191.1h0M346.2 191.4h0M354.5 191.9h0M168.7 192.0h0M175.7 192.8h0M185.3 192.6h0M190.2 192.6h0M220.9 192.2h0M230.0 192.2h0M236.0 192.2h0M236.5 192.5h0M240.5 192.4h0M260.2 192.2h0M287.1 192.3h0M289.4 192.7h0M291.3 192.4h0M296.3 192.6h0M301.6 192.7h0M320.2 192.9h0M328.6 192.8h0M332.2 192.6h0M345.9 193.0h0M189.7 193.6h0M191.7 193.0h0M194.2 193.2h0M198.7 193.7h0M207.2 193.0h0M217.2 193.1h0M229.3 193.6h0M233.0 193.5h0M234.3 193.9h0M261.4 193.9h0M286.9 193.2h0M312.8 193.7h0M315.4 193.2h0M325.0 193.3h0M328.5 193.7h0M329.5 193.2h0M333.2 194.0h0M342.3 193.7h0M347.2 194.0h0M352.9 193.6h0M160.1 194.5h0M199.0 194.3h0M203.4 194.4h0M204.3 194.2h0M217.1 194.6h0M220.8 194.3h0M228.9 194.9h0M236.0 194.8h0M238.1 194.5h0M239.2 194.7h0M241.8 194.6h0M254.3 194.8h0M264.8 194.1h0M273.0 195.0h0M275.1 194.7h0M296.4 195.0h0M301.7 194.6h0M308.4 194.8h0M324.0 194.4h0M341.4 194.7h0M352.1 194.9h0M357.5 195.0h0M207.5 195.8h0M209.9 195.2h0M232.2 195.3h0M239.7 195.6h0M268.7 195.4h0M293.9 195.7h0M312.7 195.4h0M323.9 195.7h0M329.7 195.8h0M334.4 195.0h0M336.0 195.6h0M340.3 195.7h0M350.6 195.9h0M352.3 195.6h0M353.3 195.8h0M354.4 195.3h0M201.0 196.8h0M221.0 196.9h0M235.0 196.8h0M236.3 196.2h0M241.7 196.3h0M243.7 196.3h0M245.7 196.2h0M252.1 196.5h0M253.8 196.1h0M254.6 196.5h0M261.3 196.6h0M281.1 196.5h0M299.5 196.0h0M321.6 196.1h0M325.0 196.6h0M340.1 196.4h0M352.7 196.1h0M354.9 196.0h0M358.7 196.4h0M360.2 196.6h0M174.0 197.3h0M183.3 197.3h0M184.2 197.0h0M189.8 197.1h0M194.6 197.9h0M210.7 197.8h0M220.7 197.6h0M233.0 197.0h0M241.5 197.6h0M243.7 197.1h0M259.7 197.3h0M276.2 197.7h0M331.6 197.6h0M354.8 197.6h0M190.7 198.6h0M192.7 198.3h0M205.0 198.4h0M212.9 198.4h0M214.1 198.7h0M241.1 198.2h0M250.7 198.6h0M251.7 198.2h0M255.0 198.2h0M260.4 198.7h0M277.6 198.9h0M325.3 198.6h0M326.5 198.1h0M329.0 198.1h0M333.3 198.8h0M338.4 198.4h0M345.1 198.2h0M347.6 198.8h0M348.1 198.8h0M349.5 198.7h0M357.9 198.4h0M199.5 199.6h0M232.1 199.6h0M243.1 199.4h0M248.0 199.9h0M287.1 199.7h0M327.1 199.7h0M333.9 199.9h0M339.6 199.4h0M341.2 199.0h0M360.8 199.0h0M198.8 200.2h0M211.0 200.8h0M219.4 200.7h0M237.0 200.7h0M240.1 200.3h0M241.5 201.0h0M257.9 200.8h0M273.3 200.4h0M303.5 200.9h0M310.9 200.8h0M325.8 200.9h0M331.7 200.6h0M352.1 200.8h0M353.8 200.4h0M362.8 200.3h0M221.4 201.2h0M222.7 201.7h0M223.0 201.3h0M233.5 201.8h0M236.1 201.7h0M242.4 201.9h0M248.7 201.7h0M251.8 201.3h0M253.9 201.6h0M255.3 201.7h0M256.4 201.7h0M288.2 201.8h0M295.6 201.8h0M299.4 201.4h0M317.3 201.1h0M324.0 201.1h0M337.4 201.3h0M357.7 201.2h0M362.4 201.2h0M211.4 202.4h0M231.1 202.7h0M232.6 202.5h0M233.7 202.1h0M239.3 202.8h0M240.2 202.9h0M265.1 202.4h0M290.9 202.9h0M292.2 202.7h0M321.1 202.7h0M328.4 202.5h0M344.3 202.9h0M348.5 202.0h0M357.6 202.7h0M227.0 203.4h0M231.5 203.9h0M243.6 203.8h0M252.4 203.3h0M253.3 203.5h0M327.2 204.0h0M336.4 203.5h0M340.7 203.0h0M343.2 203.5h0M346.2 203.6h0M355.6 203.8h0M359.4 203.3h0M217.4 204.3h0M238.1 204.9h0M247.6 205.0h0M254.6 204.6h0M269.9 204.7h0M271.2 204.2h0M277.7 204.6h0M286.2 204.2h0M315.7 204.4h0M323.0 204.7h0M325.0 204.6h0M328.9 204.6h0M342.0 204.4h0M349.6 205.0h0M362.4 204.3h0M220.8 205.6h0M231.9 205.9h0M238.3 206.0h0M241.3 205.9h0M244.9 205.2h0M246.3 205.3h0M249.4 205.2h0M253.0 205.0h0M254.2 205.5h0M272.5 205.3h0M277.2 205.4h0M285.2 205.1h0M291.1 205.0h0M329.7 205.7h0M348.3 205.7h0M349.9 205.2h0M352.8 205.3h0M237.2 206.2h0M251.5 207.0h0M272.5 206.3h0M279.4 206.3h0M316.0 206.4h0M323.2 206.2h0M324.8 206.8h0M327.3 206.9h0M332.2 206.6h0M333.1 206.1h0M348.7 206.1h0M356.6 206.5h0M359.6 206.4h0M238.4 207.3h0M262.6 207.3h0M279.2 207.6h0M285.3 207.4h0M305.2 207.4h0M306.6 207.4h0M316.9 207.8h0M319.0 207.8h0M337.5 207.7h0M360.3 207.7h0M238.2 208.2h0M260.8 208.9h0M263.7 208.5h0M272.2 208.9h0M300.4 208.7h0M320.5 208.2h0M332.9 208.1h0M342.2 208.6h0M343.5 208.9h0M360.1 209.0h0M267.6 209.4h0M284.6 209.5h0M338.9 209.2h0M341.6 209.4h0M352.6 209.5h0M358.0 209.4h0M362.1 209.6h0M282.0 211.0h0M340.8 210.3h0M357.7 210.9h0M313.0 211.4h0M332.4 211.9h0M337.7 211.0h0M348.5 211.4h0M353.8 211.5h0M357.4 211.4h0M317.6 213.0h0M320.4 212.1h0M345.8 212.9h0M360.3 212.8h0M312.4 213.4h0M345.3 213.0h0M348.9 213.3h0M350.6 213.2h0M357.1 213.3h0M288.5 214.1h0M290.6 214.1h0M322.6 214.6h0M337.7 214.4h0M341.4 214.9h0M351.1 214.3h0M365.5 214.2h0M287.9 215.4h0M346.9 215.7h0M350.2 215.8h0M354.4 215.9h0M351.0 216.1h0M354.0 216.7h0M360.8 216.3h0M310.5 217.5h0M352.8 217.3h0M333.1 218.8h0M357.8 218.3h0M341.6 219.2h0M342.6 219.7h0M343.5 219.9h0M354.5 219.9h0M360.9 219.9h0M361.8 219.0h0M334.9 220.9h0M343.1 220.9h0M347.7 220.7h0M354.1 221.2h0M344.2 222.5h0M354.9 222.5h0M354.6 224.6h0M349.6 78.6h0M345.6 144.1h0M345.4 90.3h0M344.0 104.7h0M347.8 153.2h0M349.5 125.5h0M349.0 54.3h0M358.9 184.0h0M341.3 93.8h0M364.1 211.1h0M351.5 187.3h0M348.9 215.6h0M341.2 95.8h0M347.7 56.2h0" stroke="#f8143e" stroke-width="1.9" stroke-linecap="round" fill="none"/>
<g transform="translate(112,124) rotate(-46)"><text x="0" y="0" font-size="31" font-family="Liberation Serif" font-weight="bold" textLength="118" lengthAdjust="spacingAndGlyphs" stroke="#000" stroke-width="0.3">d = 20 nm</text></g>
<line x1="142.6" y1="100.7" x2="171.9" y2="70.3" stroke="#000" stroke-width="2.6"/><path d="M137.0 106.5L147.5 102.8L140.3 95.8Z" fill="#000"/><path d="M177.5 64.5L174.2 75.2L167.0 68.2Z" fill="#000"/>
<path d="M23 175H41M32.9 175V203.5M23 203.5H41" stroke="#000" stroke-width="2" fill="none"/>
<g transform="translate(19.7,214.2) rotate(-90)"><text x="0" y="0" font-size="19" font-family="Liberation Serif" font-weight="bold" font-style="italic">10 nm</text></g>
<defs><clipPath id="c1"><rect x="392" y="28" width="266" height="99"/></clipPath><clipPath id="c2"><rect x="392" y="139" width="266" height="99.5"/></clipPath><filter id="b2" x="-50%" y="-50%" width="200%" height="200%"><feGaussianBlur stdDeviation="1.6"/></filter><filter id="b3" x="-50%" y="-50%" width="200%" height="200%"><feGaussianBlur stdDeviation="3"/></filter><filter id="b5" x="-50%" y="-50%" width="200%" height="200%"><feGaussianBlur stdDeviation="5"/></filter></defs>
<rect x="391.5" y="19.5" width="267" height="228" fill="#fff" stroke="#4a4a4a" stroke-width="1"/>
<g clip-path="url(#c1)"><rect x="392" y="28" width="266" height="99" fill="#7a7af2"/>
<g filter="url(#b5)">
<rect x="380" y="64" width="290" height="16" fill="#8ad8ec" opacity="0.7"/>
<path d="M598 40L610 36L640 62L630 66Z" fill="#8aa8f0" opacity="0.5"/>
<ellipse cx="470" cy="118" rx="25" ry="6" fill="#8a9af0" opacity="0.4"/>
<ellipse cx="650" cy="115" rx="10" ry="14" fill="#8ab0f0" opacity="0.5"/>
</g>
<g filter="url(#b2)">
<ellipse cx="395.3" cy="71.5" rx="12.0" ry="11.5" fill="#8eeedc"/>
<ellipse cx="424" cy="71.5" rx="12.0" ry="11.5" fill="#8eeedc"/>
<ellipse cx="453.6" cy="71" rx="12.6" ry="11.5" fill="#8eeedc"/>
<ellipse cx="482.5" cy="71" rx="12.0" ry="11.5" fill="#8eeedc"/>
<ellipse cx="511" cy="70.5" rx="12.0" ry="11.5" fill="#8eeedc"/>
<ellipse cx="536" cy="72.6" rx="10.8" ry="12.1" fill="#8eeedc"/>
<ellipse cx="561.4" cy="71.5" rx="10.2" ry="13.2" fill="#8eeedc"/>
<ellipse cx="586.8" cy="72.6" rx="9.6" ry="13.2" fill="#8eeedc"/>
<ellipse cx="611.2" cy="73.6" rx="8.4" ry="12.7" fill="#8eeedc"/>
<ellipse cx="635.6" cy="74.7" rx="9.0" ry="13.8" fill="#8eeedc"/>
<ellipse cx="657" cy="75.8" rx="9.6" ry="13.8" fill="#8eeedc"/>
<ellipse cx="395.3" cy="71.5" rx="8.8" ry="8.8" fill="#dcf2a0"/>
<ellipse cx="424" cy="71.5" rx="8.8" ry="8.8" fill="#dcf2a0"/>
<ellipse cx="453.6" cy="71" rx="9.2" ry="8.8" fill="#dcf2a0"/>
<ellipse cx="482.5" cy="71" rx="8.8" ry="8.8" fill="#dcf2a0"/>
<ellipse cx="511" cy="70.5" rx="8.8" ry="8.8" fill="#dcf2a0"/>
<ellipse cx="536" cy="72.6" rx="7.9" ry="9.2" fill="#dcf2a0"/>
<ellipse cx="561.4" cy="71.5" rx="7.5" ry="10.1" fill="#dcf2a0"/>
<ellipse cx="586.8" cy="72.6" rx="7.0" ry="10.1" fill="#dcf2a0"/>
<ellipse cx="611.2" cy="73.6" rx="6.2" ry="9.7" fill="#dcf2a0"/>
<ellipse cx="635.6" cy="74.7" rx="6.6" ry="10.6" fill="#dcf2a0"/>
<ellipse cx="657" cy="75.8" rx="7.0" ry="10.6" fill="#dcf2a0"/>
<ellipse cx="395.3" cy="71.5" rx="6.3" ry="6.5" fill="#f5bc7c"/>
<ellipse cx="424" cy="71.5" rx="6.3" ry="6.5" fill="#f5bc7c"/>
<ellipse cx="453.6" cy="71" rx="6.6" ry="6.5" fill="#f5bc7c"/>
<ellipse cx="482.5" cy="71" rx="6.3" ry="6.5" fill="#f5bc7c"/>
<ellipse cx="511" cy="70.5" rx="6.3" ry="6.5" fill="#f5bc7c"/>
<ellipse cx="536" cy="72.6" rx="5.7" ry="6.8" fill="#f5bc7c"/>
<ellipse cx="561.4" cy="71.5" rx="5.4" ry="7.5" fill="#f5bc7c"/>
<ellipse cx="611.2" cy="73.6" rx="4.4" ry="7.2" fill="#f5bc7c"/>
<ellipse cx="635.6" cy="74.7" rx="4.7" ry="7.8" fill="#f5bc7c"/>
<ellipse cx="657" cy="75.8" rx="5.0" ry="7.8" fill="#f5bc7c"/>
<rect x="391.0" y="67.2" width="8.6" height="8.6" fill="#f5807a" rx="2"/>
<rect x="419.7" y="67.2" width="8.6" height="8.6" fill="#f5807a" rx="2"/>
<rect x="449.1" y="66.7" width="9.0" height="8.6" fill="#f5807a" rx="2"/>
<rect x="478.2" y="66.7" width="8.6" height="8.6" fill="#f5807a" rx="2"/>
<rect x="506.7" y="66.2" width="8.6" height="8.6" fill="#f5807a" rx="2"/>
</g></g>
<g clip-path="url(#c2)"><rect x="392" y="139" width="266" height="99.5" fill="#a0ecda"/>
<g filter="url(#b5)">
<ellipse cx="395" cy="215" rx="10" ry="30" fill="#98cce8" opacity="0.7"/>
<ellipse cx="425" cy="225" rx="35" ry="14" fill="#9cd8e6" opacity="0.7"/>
<ellipse cx="428" cy="203" rx="10" ry="9" fill="#a0d4ec" opacity="0.7"/>
<ellipse cx="415" cy="170" rx="25" ry="12" fill="#92b8ee" opacity="0.7"/>
<ellipse cx="508" cy="152" rx="11" ry="7" fill="#96bcee" opacity="0.8"/>
<ellipse cx="470" cy="147" rx="30" ry="8" fill="#ccf0b4" opacity="0.8"/>
<ellipse cx="570" cy="147" rx="45" ry="8" fill="#d0f2ae" opacity="0.8"/>
<ellipse cx="600" cy="160" rx="16" ry="8" fill="#a0d4e6" opacity="0.6"/>
<ellipse cx="525" cy="225" rx="30" ry="10" fill="#9cd0e6" opacity="0.6"/>
<ellipse cx="590" cy="215" rx="35" ry="14" fill="#c0eeb0" opacity="0.6"/>
<ellipse cx="545" cy="200" rx="12" ry="10" fill="#c8f0ac" opacity="0.6"/>
<ellipse cx="490" cy="205" rx="12" ry="10" fill="#a8dce0" opacity="0.5"/>
<ellipse cx="650" cy="215" rx="10" ry="20" fill="#e4eca0" opacity="0.7"/>
</g>
<g filter="url(#b2)">
<path d="M385 132H428L412 150L398 172L392 182L385 185Z" fill="#7b7ef0"/>
<path d="M392 150L412 152L420 165L405 178L392 186Z" fill="#8ea8f0" opacity="0.8"/>
<path d="M636 132H665V172L655 163L648 150Z" fill="#7b7ef0"/>
<path d="M630 139L650 145L660 175L650 170Z" fill="#90b0ee" opacity="0.6"/>
</g>
<g filter="url(#b3)">
<ellipse cx="413.5" cy="190" rx="16.5" ry="14" transform="rotate(0 413.5 190)" fill="#d6f4aa"/>
<ellipse cx="465" cy="185" rx="23" ry="16" transform="rotate(-5 465 185)" fill="#d6f4aa"/>
<ellipse cx="520" cy="188.5" rx="20" ry="16.5" transform="rotate(15 520 188.5)" fill="#d6f4aa"/>
<ellipse cx="578.5" cy="182.5" rx="20" ry="16" transform="rotate(0 578.5 182.5)" fill="#d6f4aa"/>
<ellipse cx="638" cy="188" rx="19" ry="17.5" transform="rotate(20 638 188)" fill="#d6f4aa"/>
<ellipse cx="413.5" cy="190" rx="7.5" ry="7" transform="rotate(0 413.5 190)" fill="#f4c48e"/>
<ellipse cx="465" cy="185" rx="14" ry="9" transform="rotate(-5 465 185)" fill="#f4c48e"/>
<ellipse cx="520" cy="188.5" rx="11" ry="9.5" transform="rotate(15 520 188.5)" fill="#f4c48e"/>
<ellipse cx="578.5" cy="182.5" rx="11" ry="9" transform="rotate(0 578.5 182.5)" fill="#f4c48e"/>
<ellipse cx="638" cy="188" rx="10" ry="10.5" transform="rotate(20 638 188)" fill="#f4c48e"/>
<ellipse cx="413.5" cy="190" rx="5.2" ry="4.5" transform="rotate(0 413.5 190)" fill="#f59a8a"/>
<ellipse cx="465" cy="185" rx="9.8" ry="5.9" transform="rotate(-5 465 185)" fill="#f59a8a"/>
<ellipse cx="520" cy="188.5" rx="7.7" ry="6.2" transform="rotate(15 520 188.5)" fill="#f59a8a"/>
<ellipse cx="578.5" cy="182.5" rx="7.7" ry="5.9" transform="rotate(0 578.5 182.5)" fill="#f59a8a"/>
<ellipse cx="638" cy="188" rx="7.0" ry="6.8" transform="rotate(20 638 188)" fill="#f59a8a"/>
</g></g>
<text x="396.5" y="42.7" font-size="14.5" font-family="Liberation Serif" font-weight="bold" stroke="#000" stroke-width="0.2">10 nm</text>
<line x1="394" y1="47.3" x2="436" y2="47.3" stroke="#000" stroke-width="3.2" stroke-linecap="round"/>
<text x="399" y="154.4" font-size="14.5" font-family="Liberation Serif" font-weight="bold" stroke="#000" stroke-width="0.2">10 nm</text>
<line x1="394" y1="158.9" x2="441.5" y2="158.9" stroke="#000" stroke-width="3.2" stroke-linecap="round"/>
<line x1="516.9" y1="86.5" x2="531.1" y2="86.5" stroke="#000" stroke-width="2.6"/><path d="M510.5 86.5L518.5 91.5L518.5 81.5Z" fill="#000"/><path d="M537.5 86.5L529.5 91.5L529.5 81.5Z" fill="#000"/>
<line x1="472.0" y1="209.0" x2="513.0" y2="209.0" stroke="#000" stroke-width="2.8"/><path d="M464.0 209.0L474.0 214.5L474.0 203.5Z" fill="#000"/><path d="M521.0 209.0L511.0 214.5L511.0 203.5Z" fill="#000"/>
<text x="470.5" y="116.8" font-size="31" font-family="Liberation Serif" font-weight="bold" stroke="#000" stroke-width="0.4" textLength="15.5" lengthAdjust="spacingAndGlyphs">d</text><text x="491.5" y="116.8" font-size="31" font-family="Liberation Serif" font-weight="bold" stroke="#000" stroke-width="0.4" textLength="18.5" lengthAdjust="spacingAndGlyphs">=</text><text x="516.5" y="116.8" font-size="31" font-family="Liberation Serif" font-weight="bold" stroke="#000" stroke-width="0.4" textLength="37.5" lengthAdjust="spacingAndGlyphs">5.8</text><text x="561.5" y="116.8" font-size="31" font-family="Liberation Serif" font-weight="bold" stroke="#000" stroke-width="0.4" textLength="37.5" lengthAdjust="spacingAndGlyphs">nm</text>
<text x="424.5" y="235" font-size="31" font-family="Liberation Serif" font-weight="bold" stroke="#000" stroke-width="0.4" textLength="15.5" lengthAdjust="spacingAndGlyphs">d</text><text x="445.8" y="235" font-size="31" font-family="Liberation Serif" font-weight="bold" stroke="#000" stroke-width="0.4" textLength="19.2" lengthAdjust="spacingAndGlyphs">=</text><text x="472" y="235" font-size="31" font-family="Liberation Serif" font-weight="bold" stroke="#000" stroke-width="0.4" textLength="50.5" lengthAdjust="spacingAndGlyphs">12.5</text><text x="529.5" y="235" font-size="31" font-family="Liberation Serif" font-weight="bold" stroke="#000" stroke-width="0.4" textLength="38.5" lengthAdjust="spacingAndGlyphs">nm</text>
<path d="M54.5 301.5H332.5V506.5H54.5Z" stroke="#000" stroke-width="3" fill="none" stroke-linejoin="miter"/>
<path d="M50.0 506.6H54.5M332.5 506.6H328.5M50.0 481.0H54.5M332.5 481.0H328.5M50.0 455.3H54.5M332.5 455.3H328.5M50.0 429.7H54.5M332.5 429.7H328.5M50.0 404.0H54.5M332.5 404.0H328.5M50.0 378.4H54.5M332.5 378.4H328.5M50.0 352.7H54.5M332.5 352.7H328.5M50.0 327.1H54.5M332.5 327.1H328.5M50.0 301.4H54.5M332.5 301.4H328.5M51.5 493.8H54.5M332.5 493.8H330.0M51.5 468.1H54.5M332.5 468.1H330.0M51.5 442.5H54.5M332.5 442.5H330.0M51.5 416.8H54.5M332.5 416.8H330.0M51.5 391.2H54.5M332.5 391.2H330.0M51.5 365.5H54.5M332.5 365.5H330.0M51.5 339.9H54.5M332.5 339.9H330.0M51.5 314.2H54.5M332.5 314.2H330.0M54.5 506.5V511.0M54.5 301.5V305.5M193.5 506.5V511.0M193.5 301.5V305.5M332.5 506.5V511.0M332.5 301.5V305.5M96.3 506.5V509.5M96.3 301.5V304.0M120.8 506.5V509.5M120.8 301.5V304.0M138.2 506.5V509.5M138.2 301.5V304.0M151.7 506.5V509.5M151.7 301.5V304.0M162.7 506.5V509.5M162.7 301.5V304.0M172.0 506.5V509.5M172.0 301.5V304.0M180.0 506.5V509.5M180.0 301.5V304.0M187.1 506.5V509.5M187.1 301.5V304.0M235.3 506.5V509.5M235.3 301.5V304.0M259.8 506.5V509.5M259.8 301.5V304.0M277.2 506.5V509.5M277.2 301.5V304.0M290.7 506.5V509.5M290.7 301.5V304.0M301.7 506.5V509.5M301.7 301.5V304.0M311.0 506.5V509.5M311.0 301.5V304.0M319.0 506.5V509.5M319.0 301.5V304.0M326.1 506.5V509.5M326.1 301.5V304.0" stroke="#000" stroke-width="2.2" fill="none"/>
<text x="47.5" y="511.9" font-size="16.5" font-family="Liberation Serif" font-weight="bold" stroke="#000" stroke-width="0.35" text-anchor="end">0</text>
<text x="47.5" y="486.3" font-size="16.5" font-family="Liberation Serif" font-weight="bold" stroke="#000" stroke-width="0.35" text-anchor="end">10</text>
<text x="47.5" y="460.6" font-size="16.5" font-family="Liberation Serif" font-weight="bold" stroke="#000" stroke-width="0.35" text-anchor="end">20</text>
<text x="47.5" y="435.0" font-size="16.5" font-family="Liberation Serif" font-weight="bold" stroke="#000" stroke-width="0.35" text-anchor="end">30</text>
<text x="47.5" y="409.3" font-size="16.5" font-family="Liberation Serif" font-weight="bold" stroke="#000" stroke-width="0.35" text-anchor="end">40</text>
<text x="47.5" y="383.7" font-size="16.5" font-family="Liberation Serif" font-weight="bold" stroke="#000" stroke-width="0.35" text-anchor="end">50</text>
<text x="47.5" y="358.0" font-size="16.5" font-family="Liberation Serif" font-weight="bold" stroke="#000" stroke-width="0.35" text-anchor="end">60</text>
<text x="47.5" y="332.4" font-size="16.5" font-family="Liberation Serif" font-weight="bold" stroke="#000" stroke-width="0.35" text-anchor="end">70</text>
<text x="47.5" y="306.7" font-size="16.5" font-family="Liberation Serif" font-weight="bold" stroke="#000" stroke-width="0.35" text-anchor="end">80</text>
<text x="54.5" y="527.5" font-size="16.5" font-family="Liberation Serif" font-weight="bold" stroke="#000" stroke-width="0.35" text-anchor="middle">1</text>
<text x="193.5" y="527.5" font-size="16.5" font-family="Liberation Serif" font-weight="bold" stroke="#000" stroke-width="0.35" text-anchor="middle">10</text>
<text x="332.5" y="527.5" font-size="16.5" font-family="Liberation Serif" font-weight="bold" stroke="#000" stroke-width="0.35" text-anchor="middle">100</text>
<text x="198.5" y="541.5" font-size="17.5" font-family="Liberation Serif" font-weight="bold" stroke="#000" stroke-width="0.35" text-anchor="middle">d (nm)</text>
<g transform="translate(19.7,458) rotate(-90)" stroke="#000" stroke-width="0.35"><text x="0" y="0" font-size="19" font-family="Liberation Serif" font-weight="bold">Γ</text><text x="15.5" y="3.8" font-size="15" font-family="Liberation Serif" font-weight="bold" font-style="italic">exp</text><text x="15.2" y="-9.3" font-size="11.5" font-family="Liberation Serif" font-weight="bold" font-style="italic">T</text><text x="46" y="0" font-size="19" font-family="Liberation Serif" font-weight="bold">(at.nm<tspan font-size="12" dy="-7">-1</tspan><tspan dy="7">)</tspan></text></g>
<line x1="112.6" y1="495.5" x2="289.6" y2="308.9" stroke="#f01010" stroke-width="3" stroke-dasharray="11 11.6"/>
<rect x="156.0" y="448.1" width="9.2" height="9.2" stroke="#000" stroke-width="2.6" fill="none"/>
<rect x="179.1" y="417.1" width="9.2" height="9.2" stroke="#000" stroke-width="2.6" fill="none"/>
<rect x="194.7" y="409.4" width="9.2" height="9.2" stroke="#000" stroke-width="2.6" fill="none"/>
<rect x="197.3" y="394.0" width="9.2" height="9.2" stroke="#000" stroke-width="2.6" fill="none"/>
<rect x="202.4" y="390.2" width="9.2" height="9.2" stroke="#000" stroke-width="2.6" fill="none"/>
<rect x="230.7" y="333.0" width="9.2" height="9.2" stroke="#000" stroke-width="2.6" fill="none"/>
<rect x="286.1" y="318.6" width="9.2" height="9.2" stroke="#000" stroke-width="2.6" fill="none"/>
<rect x="72.4" y="316.9" width="9.2" height="9.2" stroke="#000" stroke-width="2.6" fill="none"/>
<text x="100" y="324.8" font-size="13.5" font-family="Liberation Serif" font-weight="bold" stroke="#000" stroke-width="0.35" textLength="60" lengthAdjust="spacingAndGlyphs">Experiment</text>
<path d="M61 340.5H73.5M85 340.5H93.2" stroke="#f01010" stroke-width="3"/>
<text x="100" y="343.8" font-size="13.5" font-family="Liberation Serif" font-weight="bold" stroke="#000" stroke-width="0.35" textLength="77.7" lengthAdjust="spacingAndGlyphs">Logarithmic fit</text>
<path d="M400.2 300.8H657.7V507.8H400.2Z" stroke="#000" stroke-width="2.6" fill="none"/>
<path d="M396.2 499.8H400.2M657.7 499.8H653.7M396.2 462.9H400.2M657.7 462.9H653.7M396.2 426.0H400.2M657.7 426.0H653.7M396.2 389.2H400.2M657.7 389.2H653.7M396.2 352.3H400.2M657.7 352.3H653.7M396.2 315.4H400.2M657.7 315.4H653.7M397.7 481.4H400.2M657.7 481.4H655.2M397.7 444.5H400.2M657.7 444.5H655.2M397.7 407.6H400.2M657.7 407.6H655.2M397.7 370.7H400.2M657.7 370.7H655.2M397.7 333.8H400.2M657.7 333.8H655.2M400.2 507.8V511.8M400.2 300.8V304.8M457.4 507.8V511.8M457.4 300.8V304.8M514.6 507.8V511.8M514.6 300.8V304.8M571.8 507.8V511.8M571.8 300.8V304.8M629.0 507.8V511.8M629.0 300.8V304.8M428.8 507.8V510.3M428.8 300.8V303.3M486.0 507.8V510.3M486.0 300.8V303.3M543.2 507.8V510.3M543.2 300.8V303.3M600.4 507.8V510.3M600.4 300.8V303.3" stroke="#000" stroke-width="2" fill="none"/>
<text x="391.5" y="504.5" font-size="14.8" font-family="Liberation Serif" font-weight="bold" stroke="#000" stroke-width="0.35" text-anchor="end">0</text>
<text x="391.5" y="467.6" font-size="14.8" font-family="Liberation Serif" font-weight="bold" stroke="#000" stroke-width="0.35" text-anchor="end">5</text>
<text x="391.5" y="430.7" font-size="14.8" font-family="Liberation Serif" font-weight="bold" stroke="#000" stroke-width="0.35" text-anchor="end">10</text>
<text x="391.5" y="393.9" font-size="14.8" font-family="Liberation Serif" font-weight="bold" stroke="#000" stroke-width="0.35" text-anchor="end">15</text>
<text x="391.5" y="357.0" font-size="14.8" font-family="Liberation Serif" font-weight="bold" stroke="#000" stroke-width="0.35" text-anchor="end">20</text>
<text x="391.5" y="320.1" font-size="14.8" font-family="Liberation Serif" font-weight="bold" stroke="#000" stroke-width="0.35" text-anchor="end">25</text>
<text x="400.2" y="527.2" font-size="14.8" font-family="Liberation Serif" font-weight="bold" stroke="#000" stroke-width="0.35" text-anchor="middle">0</text>
<text x="457.4" y="527.2" font-size="14.8" font-family="Liberation Serif" font-weight="bold" stroke="#000" stroke-width="0.35" text-anchor="middle">1</text>
<text x="514.6" y="527.2" font-size="14.8" font-family="Liberation Serif" font-weight="bold" stroke="#000" stroke-width="0.35" text-anchor="middle">2</text>
<text x="571.8" y="527.2" font-size="14.8" font-family="Liberation Serif" font-weight="bold" stroke="#000" stroke-width="0.35" text-anchor="middle">3</text>
<text x="629.0" y="527.2" font-size="14.8" font-family="Liberation Serif" font-weight="bold" stroke="#000" stroke-width="0.35" text-anchor="middle">4</text>
<text x="525.5" y="544" font-size="15.3" font-family="Liberation Serif" font-weight="bold" stroke="#000" stroke-width="0.35" text-anchor="middle">r (nm)</text>
<g transform="translate(365.5,454.5) rotate(-90)" stroke="#000" stroke-width="0.35"><text x="0" y="0" font-size="19" font-family="Liberation Serif" font-weight="bold">Γ</text><text x="15.5" y="3.8" font-size="15" font-family="Liberation Serif" font-weight="bold" font-style="italic">exp</text><text x="15.2" y="-9.3" font-size="11.5" font-family="Liberation Serif" font-weight="bold" font-style="italic">T</text><text x="46" y="0" font-size="19" font-family="Liberation Serif" font-weight="bold">(at.nm<tspan font-size="12" dy="-7">-1</tspan><tspan dy="7">)</tspan></text></g>
<polyline points="443.1,496.1 486.0,475.5 528.9,462.9 571.8,438.6 614.7,457.0 629.0,499.1" stroke="#787878" stroke-width="1" fill="none"/>
<path d="M486.0 473.2V477.7M483.0 473.2H489.0M483.0 477.7H489.0M528.9 457.0V468.8M525.9 457.0H531.9M525.9 468.8H531.9M571.8 429.7V447.4M568.8 429.7H574.8M568.8 447.4H574.8M614.7 452.6V461.4M611.7 452.6H617.7M611.7 461.4H617.7" stroke="#787878" stroke-width="1" fill="none"/>
<rect x="439.7" y="492.7" width="6.9" height="6.9" stroke="#787878" stroke-width="1.7" fill="none"/>
<rect x="482.6" y="472.0" width="6.9" height="6.9" stroke="#787878" stroke-width="1.7" fill="none"/>
<rect x="525.5" y="459.5" width="6.9" height="6.9" stroke="#787878" stroke-width="1.7" fill="none"/>
<rect x="568.4" y="435.1" width="6.9" height="6.9" stroke="#787878" stroke-width="1.7" fill="none"/>
<rect x="611.3" y="453.6" width="6.9" height="6.9" stroke="#787878" stroke-width="1.7" fill="none"/>
<rect x="625.6" y="495.6" width="6.9" height="6.9" stroke="#787878" stroke-width="1.7" fill="none"/>
<rect x="639.9" y="496.0" width="6.9" height="6.9" stroke="#787878" stroke-width="1.7" fill="none"/>
<polyline points="443.1,496.8 486.0,474.7 528.9,458.5 571.8,437.8 614.7,435.6 629.0,498.3" stroke="#ff0000" stroke-width="1" fill="none"/>
<path d="M486.0 472.5V476.9M483.0 472.5H489.0M483.0 476.9H489.0M528.9 453.3V463.7M525.9 453.3H531.9M525.9 463.7H531.9M571.8 431.9V443.7M568.8 431.9H574.8M568.8 443.7H574.8M614.7 430.5V440.8M611.7 430.5H617.7M611.7 440.8H617.7" stroke="#ff0000" stroke-width="1" fill="none"/>
<circle cx="443.1" cy="496.8" r="3.7" stroke="#ff0000" stroke-width="2.0" fill="none"/>
<circle cx="486.0" cy="474.7" r="3.7" stroke="#ff0000" stroke-width="2.0" fill="none"/>
<circle cx="528.9" cy="458.5" r="3.7" stroke="#ff0000" stroke-width="2.0" fill="none"/>
<circle cx="571.8" cy="437.8" r="3.7" stroke="#ff0000" stroke-width="2.0" fill="none"/>
<circle cx="614.7" cy="435.6" r="3.7" stroke="#ff0000" stroke-width="2.0" fill="none"/>
<circle cx="629.0" cy="498.3" r="3.7" stroke="#ff0000" stroke-width="2.0" fill="none"/>
<circle cx="643.3" cy="499.4" r="3.7" stroke="#ff0000" stroke-width="2.0" fill="none"/>
<polyline points="443.1,496.1 486.0,473.2 528.9,441.5 571.8,415.7 614.7,460.7 629.0,499.1" stroke="#ff00ff" stroke-width="1" fill="none"/>
<path d="M486.0 471.0V475.5M483.0 471.0H489.0M483.0 475.5H489.0M528.9 436.4V446.7M525.9 436.4H531.9M525.9 446.7H531.9M571.8 408.3V423.1M568.8 408.3H574.8M568.8 423.1H574.8M614.7 454.8V466.6M611.7 454.8H617.7M611.7 466.6H617.7" stroke="#ff00ff" stroke-width="1" fill="none"/>
<path d="M443.1 491.8L447.4 499.3L438.8 499.3Z" stroke="#ff00ff" stroke-width="1.7" fill="none"/>
<path d="M486.0 468.9L490.3 476.5L481.7 476.5Z" stroke="#ff00ff" stroke-width="1.7" fill="none"/>
<path d="M528.9 437.2L533.2 444.8L524.6 444.8Z" stroke="#ff00ff" stroke-width="1.7" fill="none"/>
<path d="M571.8 411.4L576.1 418.9L567.5 418.9Z" stroke="#ff00ff" stroke-width="1.7" fill="none"/>
<path d="M614.7 456.4L619.0 463.9L610.4 463.9Z" stroke="#ff00ff" stroke-width="1.7" fill="none"/>
<path d="M629.0 494.8L633.3 502.3L624.7 502.3Z" stroke="#ff00ff" stroke-width="1.7" fill="none"/>
<path d="M643.3 495.1L647.6 502.7L639.0 502.7Z" stroke="#ff00ff" stroke-width="1.7" fill="none"/>
<polyline points="443.1,497.6 486.0,475.5 528.9,438.6 571.8,409.8 614.7,453.3 629.0,499.1" stroke="#0000ff" stroke-width="1" fill="none"/>
<path d="M486.0 473.2V477.7M483.0 473.2H489.0M483.0 477.7H489.0M528.9 431.2V446.0M525.9 431.2H531.9M525.9 446.0H531.9M571.8 402.4V417.2M568.8 402.4H574.8M568.8 417.2H574.8M614.7 448.2V458.5M611.7 448.2H617.7M611.7 458.5H617.7" stroke="#0000ff" stroke-width="1" fill="none"/>
<path d="M443.1 501.9L447.4 494.4L438.8 494.4Z" stroke="#0000ff" stroke-width="1.7" fill="none"/>
<path d="M486.0 479.8L490.3 472.2L481.7 472.2Z" stroke="#0000ff" stroke-width="1.7" fill="none"/>
<path d="M528.9 442.9L533.2 435.4L524.6 435.4Z" stroke="#0000ff" stroke-width="1.7" fill="none"/>
<path d="M571.8 414.1L576.1 406.6L567.5 406.6Z" stroke="#0000ff" stroke-width="1.7" fill="none"/>
<path d="M614.7 457.6L619.0 450.1L610.4 450.1Z" stroke="#0000ff" stroke-width="1.7" fill="none"/>
<path d="M629.0 503.4L633.3 495.8L624.7 495.8Z" stroke="#0000ff" stroke-width="1.7" fill="none"/>
<path d="M643.3 503.7L647.6 496.2L639.0 496.2Z" stroke="#0000ff" stroke-width="1.7" fill="none"/>
<polyline points="443.1,496.1 486.0,474.7 528.9,385.5 571.8,378.8 614.7,476.2 629.0,498.3" stroke="#ff0000" stroke-width="1" fill="none"/>
<path d="M486.0 472.5V476.9M483.0 472.5H489.0M483.0 476.9H489.0M528.9 378.1V392.8M525.9 378.1H531.9M525.9 392.8H531.9M571.8 370.0V387.7M568.8 370.0H574.8M568.8 387.7H574.8M614.7 471.8V480.6M611.7 471.8H617.7M611.7 480.6H617.7" stroke="#ff0000" stroke-width="1" fill="none"/>
<polygon points="447.2,496.1 445.1,499.6 441.1,499.6 439.0,496.1 441.1,492.6 445.1,492.6" stroke="#ff0000" stroke-width="2.0" fill="none"/>
<polygon points="490.1,474.7 488.0,478.3 484.0,478.3 481.9,474.7 484.0,471.2 488.0,471.2" stroke="#ff0000" stroke-width="2.0" fill="none"/>
<polygon points="533.0,385.5 530.9,389.0 526.9,389.0 524.8,385.5 526.9,381.9 530.9,381.9" stroke="#ff0000" stroke-width="2.0" fill="none"/>
<polygon points="575.9,378.8 573.8,382.4 569.8,382.4 567.7,378.8 569.8,375.3 573.8,375.3" stroke="#ff0000" stroke-width="2.0" fill="none"/>
<polygon points="618.8,476.2 616.7,479.7 612.7,479.7 610.6,476.2 612.7,472.7 616.7,472.7" stroke="#ff0000" stroke-width="2.0" fill="none"/>
<polygon points="633.1,498.3 631.0,501.9 627.0,501.9 624.9,498.3 627.0,494.8 631.0,494.8" stroke="#ff0000" stroke-width="2.0" fill="none"/>
<polygon points="647.4,499.4 645.3,503.0 641.3,503.0 639.2,499.4 641.3,495.9 645.3,495.9" stroke="#ff0000" stroke-width="2.0" fill="none"/>
<polyline points="443.1,496.1 486.0,483.6 528.9,394.3 571.8,327.2 614.7,496.8" stroke="#000000" stroke-width="1" fill="none"/>
<polyline points="614.7,496.8 629.0,499.1 643.3,499.4" stroke="#000000" stroke-width="1.2" fill="none" stroke-dasharray="3 2.5"/>
<path d="M486.0 481.4V485.8M483.0 481.4H489.0M483.0 485.8H489.0M528.9 389.9V398.7M525.9 389.9H531.9M525.9 398.7H531.9M571.8 316.1V338.3M568.8 316.1H574.8M568.8 338.3H574.8" stroke="#000000" stroke-width="1" fill="none"/>
<path d="M438.8 496.1L446.3 491.8L446.3 500.4Z" stroke="#000000" stroke-width="1.7" fill="none"/>
<path d="M481.7 483.6L489.2 479.3L489.2 487.9Z" stroke="#000000" stroke-width="1.7" fill="none"/>
<path d="M524.6 394.3L532.1 390.0L532.1 398.6Z" stroke="#000000" stroke-width="1.7" fill="none"/>
<path d="M567.5 327.2L575.0 322.9L575.0 331.5Z" stroke="#000000" stroke-width="1.7" fill="none"/>
<path d="M610.4 496.8L617.9 492.5L617.9 501.1Z" stroke="#000000" stroke-width="1.7" fill="none"/>
<path d="M624.7 499.1L632.2 494.8L632.2 503.4Z" stroke="#000000" stroke-width="1.7" fill="none"/>
<path d="M639.0 499.4L646.5 495.1L646.5 503.7Z" stroke="#000000" stroke-width="1.7" fill="none"/>
<path d="M409 316.0H415.5M425.5 316.0H432" stroke="#787878" stroke-width="1.1"/>
<rect x="416.9" y="312.9" width="6.2" height="6.2" stroke="#787878" stroke-width="1.7" fill="none"/>
<text x="434" y="320.0" font-size="11.8" font-family="Liberation Serif" font-weight="bold" stroke="#000" stroke-width="0.25">8.5nm</text>
<path d="M409 330.7H415.5M425.5 330.7H432" stroke="#ff0000" stroke-width="1.1"/>
<circle cx="420.0" cy="330.7" r="3.3" stroke="#ff0000" stroke-width="2.0" fill="none"/>
<text x="434" y="334.7" font-size="11.8" font-family="Liberation Serif" font-weight="bold" stroke="#000" stroke-width="0.25">11nm</text>
<path d="M409 345.4H415.5M425.5 345.4H432" stroke="#ff00ff" stroke-width="1.1"/>
<path d="M420.0 341.5L423.9 348.3L416.1 348.3Z" stroke="#ff00ff" stroke-width="1.7" fill="none"/>
<text x="434" y="349.4" font-size="11.8" font-family="Liberation Serif" font-weight="bold" stroke="#000" stroke-width="0.25">11.5nm</text>
<path d="M409 360.1H415.5M425.5 360.1H432" stroke="#0000ff" stroke-width="1.1"/>
<path d="M420.0 364.0L423.9 357.2L416.1 357.2Z" stroke="#0000ff" stroke-width="1.7" fill="none"/>
<text x="434" y="364.1" font-size="11.8" font-family="Liberation Serif" font-weight="bold" stroke="#000" stroke-width="0.25">12.5nm</text>
<path d="M409 374.8H415.5M425.5 374.8H432" stroke="#ff0000" stroke-width="1.1"/>
<polygon points="423.7,374.8 421.9,378.0 418.1,378.0 416.3,374.8 418.1,371.6 421.9,371.6" stroke="#ff0000" stroke-width="2.0" fill="none"/>
<text x="434" y="378.8" font-size="11.8" font-family="Liberation Serif" font-weight="bold" stroke="#000" stroke-width="0.25">20nm</text>
<path d="M409 389.5H415.5M425.5 389.5H432" stroke="#000000" stroke-width="1.1"/>
<path d="M416.1 389.5L422.9 385.6L422.9 393.4Z" stroke="#000000" stroke-width="1.7" fill="none"/>
<text x="434" y="393.5" font-size="11.8" font-family="Liberation Serif" font-weight="bold" stroke="#000" stroke-width="0.25">50nm</text>
</svg></body></html>
